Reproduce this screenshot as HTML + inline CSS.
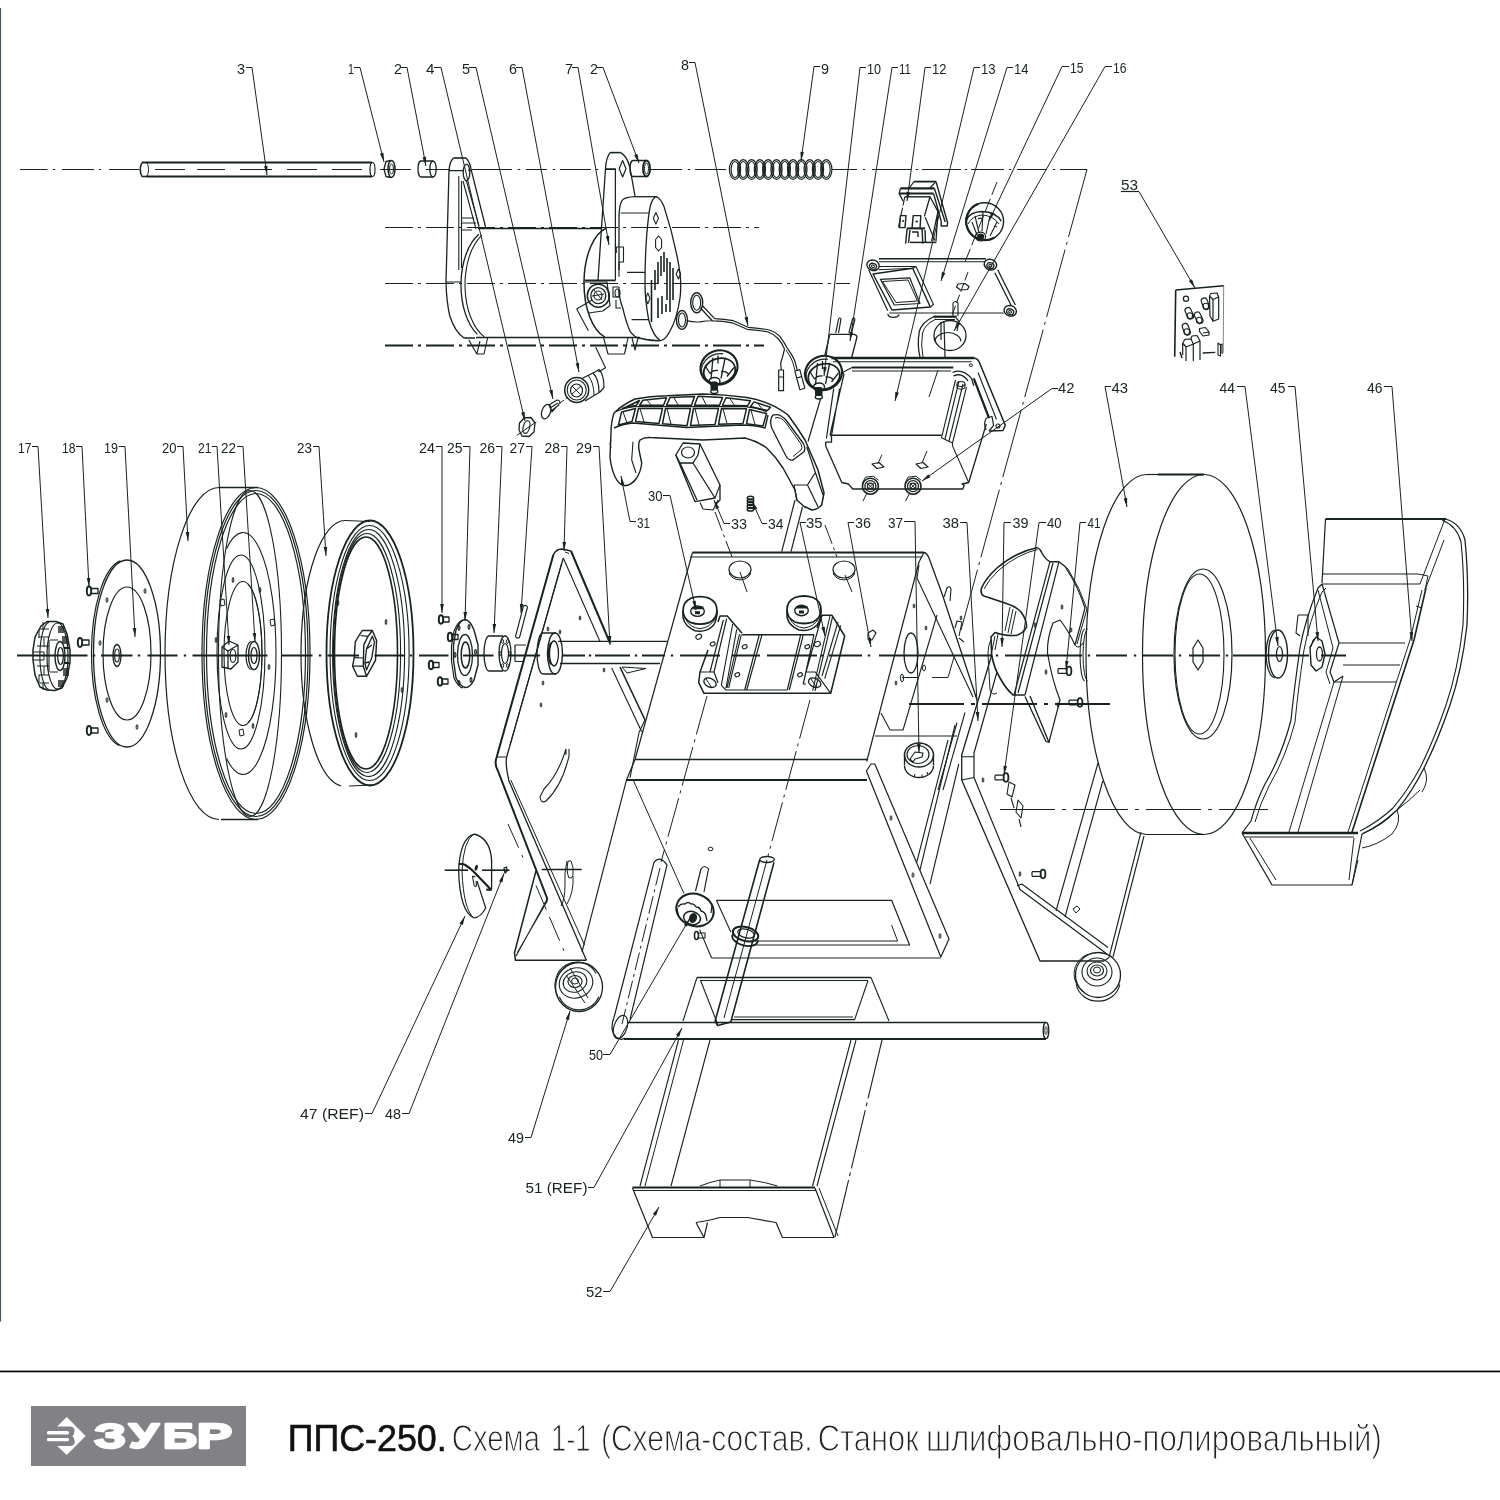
<!DOCTYPE html>
<html lang="ru"><head><meta charset="utf-8"><title>ППС-250. Схема 1-1</title>
<style>
html,body{margin:0;padding:0;background:#fff;}
body{width:1500px;height:1500px;position:relative;overflow:hidden;font-family:"Liberation Sans",sans-serif;}
svg{position:absolute;left:0;top:0;will-change:transform;}
svg text{font-family:"Liberation Sans",sans-serif;fill:#18221f;stroke:none;}
.logo{position:absolute;left:31px;top:1406px;width:215px;height:60px;background:#828186;}
</style></head><body>
<svg width="1500" height="1500" viewBox="0 0 1500 1500" fill="none" stroke="#18221f" stroke-linecap="butt" stroke-linejoin="round">
<rect x="0" y="0" width="1500" height="1500" fill="#fff" stroke="none"/>
<rect x="0" y="8" width="1.1" height="1313.6" fill="#4b5860" stroke="none"/>
<rect x="0" y="1370.6" width="1500" height="1.7" fill="#050505" stroke="none"/>
<rect x="31" y="1406" width="215" height="60" fill="#828186" stroke="none"/>
<text y="1447.6" font-size="34.5" font-weight="bold" style="fill:#fff;stroke:#fff;stroke-width:2.4px;stroke-linejoin:round"><tspan x="94.2" textLength="31.7" lengthAdjust="spacingAndGlyphs">З</tspan><tspan x="129.0" textLength="29.5" lengthAdjust="spacingAndGlyphs">У</tspan><tspan x="162.9" textLength="33.9" lengthAdjust="spacingAndGlyphs">Б</tspan><tspan x="197.0" textLength="35.0" lengthAdjust="spacingAndGlyphs">Р</tspan></text>
<polygon points="66.7,1416.9 85.6,1436.1 66.7,1455 57.2,1446 57.2,1426.5" fill="#fff" stroke="none"/>
<path d="M56.6,1426.5 H70 Q74.5,1426.5 74.5,1431 Q74.5,1434.5 72.5,1436.2 Q74.8,1438 74.8,1441.5 Q74.8,1446 70,1446 H56.6 Z" fill="#828186" stroke="none"/>
<rect x="46.9" y="1431" width="22.1" height="3.4" rx="1.5" fill="#fff" stroke="none"/><rect x="46.9" y="1438" width="22.1" height="3.3" rx="1.5" fill="#fff" stroke="none"/>
<text x="287.7" y="1450.8" font-size="36.5" textLength="159" lengthAdjust="spacingAndGlyphs" style="fill:#111;stroke:#111;stroke-width:0.6px">ППС-250.</text>
<text y="1450.8" font-size="36.5" style="fill:#222;stroke:#fff;stroke-width:1.1px" xml:space="preserve"><tspan x="451.8" textLength="88.3" lengthAdjust="spacingAndGlyphs">Схема</tspan> <tspan x="551.0" textLength="39.6" lengthAdjust="spacingAndGlyphs">1-1</tspan> <tspan x="600.9" textLength="211.8" lengthAdjust="spacingAndGlyphs">(Схема-состав.</tspan> <tspan x="817.8" textLength="100.9" lengthAdjust="spacingAndGlyphs">Станок</tspan> <tspan x="925.9" textLength="456.0" lengthAdjust="spacingAndGlyphs">шлифовально-полировальный)</tspan></text>
<text x="237" y="73.5" font-size="14.5" text-anchor="start" textLength="8" lengthAdjust="spacingAndGlyphs" >3</text>
<text x="348" y="73.5" font-size="14.5" text-anchor="start" textLength="6" lengthAdjust="spacingAndGlyphs" >1</text>
<text x="394" y="73.5" font-size="14.5" text-anchor="start" textLength="8" lengthAdjust="spacingAndGlyphs" >2</text>
<text x="426" y="73.5" font-size="14.5" text-anchor="start" textLength="8.5" lengthAdjust="spacingAndGlyphs" >4</text>
<text x="462" y="73.5" font-size="14.5" text-anchor="start" textLength="8" lengthAdjust="spacingAndGlyphs" >5</text>
<text x="509" y="73.5" font-size="14.5" text-anchor="start" textLength="8" lengthAdjust="spacingAndGlyphs" >6</text>
<text x="565" y="73.5" font-size="14.5" text-anchor="start" textLength="8" lengthAdjust="spacingAndGlyphs" >7</text>
<text x="590" y="73.5" font-size="14.5" text-anchor="start" textLength="8" lengthAdjust="spacingAndGlyphs" >2</text>
<text x="681" y="69.5" font-size="14.5" text-anchor="start" textLength="8" lengthAdjust="spacingAndGlyphs" >8</text>
<text x="821" y="73.5" font-size="14.5" text-anchor="start" textLength="8" lengthAdjust="spacingAndGlyphs" >9</text>
<text x="867" y="73.5" font-size="14.5" text-anchor="start" textLength="14" lengthAdjust="spacingAndGlyphs" >10</text>
<text x="899" y="73.5" font-size="14.5" text-anchor="start" textLength="12" lengthAdjust="spacingAndGlyphs" >11</text>
<text x="932" y="73.5" font-size="14.5" text-anchor="start" textLength="14.5" lengthAdjust="spacingAndGlyphs" >12</text>
<text x="981" y="73.5" font-size="14.5" text-anchor="start" textLength="14.5" lengthAdjust="spacingAndGlyphs" >13</text>
<text x="1014" y="73.5" font-size="14.5" text-anchor="start" textLength="14.5" lengthAdjust="spacingAndGlyphs" >14</text>
<text x="1070" y="73" font-size="14.5" text-anchor="start" textLength="13.5" lengthAdjust="spacingAndGlyphs" >15</text>
<text x="1113" y="73" font-size="14.5" text-anchor="start" textLength="13.5" lengthAdjust="spacingAndGlyphs" >16</text>
<text x="1121" y="189.5" font-size="14.5" text-anchor="start" textLength="17" lengthAdjust="spacingAndGlyphs" >53</text>
<text x="1058" y="393" font-size="14.5" text-anchor="start" textLength="16.5" lengthAdjust="spacingAndGlyphs" >42</text>
<text x="1111.5" y="393" font-size="14.5" text-anchor="start" textLength="16.5" lengthAdjust="spacingAndGlyphs" >43</text>
<text x="1219.5" y="393" font-size="14.5" text-anchor="start" textLength="15.5" lengthAdjust="spacingAndGlyphs" >44</text>
<text x="1270" y="393" font-size="14.5" text-anchor="start" textLength="15.5" lengthAdjust="spacingAndGlyphs" >45</text>
<text x="1367" y="393" font-size="14.5" text-anchor="start" textLength="15.5" lengthAdjust="spacingAndGlyphs" >46</text>
<text x="18" y="452.5" font-size="14.5" text-anchor="start" textLength="13.5" lengthAdjust="spacingAndGlyphs" >17</text>
<text x="62" y="452.5" font-size="14.5" text-anchor="start" textLength="13.5" lengthAdjust="spacingAndGlyphs" >18</text>
<text x="104" y="452.5" font-size="14.5" text-anchor="start" textLength="14" lengthAdjust="spacingAndGlyphs" >19</text>
<text x="162" y="452.5" font-size="14.5" text-anchor="start" textLength="14.5" lengthAdjust="spacingAndGlyphs" >20</text>
<text x="198" y="452.5" font-size="14.5" text-anchor="start" textLength="13.5" lengthAdjust="spacingAndGlyphs" >21</text>
<text x="221" y="452.5" font-size="14.5" text-anchor="start" textLength="15" lengthAdjust="spacingAndGlyphs" >22</text>
<text x="297" y="452.5" font-size="14.5" text-anchor="start" textLength="15" lengthAdjust="spacingAndGlyphs" >23</text>
<text x="419" y="452.5" font-size="14.5" text-anchor="start" textLength="16" lengthAdjust="spacingAndGlyphs" >24</text>
<text x="447" y="452.5" font-size="14.5" text-anchor="start" textLength="15.5" lengthAdjust="spacingAndGlyphs" >25</text>
<text x="479.5" y="452.5" font-size="14.5" text-anchor="start" textLength="15.5" lengthAdjust="spacingAndGlyphs" >26</text>
<text x="509.5" y="452.5" font-size="14.5" text-anchor="start" textLength="15.5" lengthAdjust="spacingAndGlyphs" >27</text>
<text x="544.5" y="452.5" font-size="14.5" text-anchor="start" textLength="15.5" lengthAdjust="spacingAndGlyphs" >28</text>
<text x="576" y="452.5" font-size="14.5" text-anchor="start" textLength="16" lengthAdjust="spacingAndGlyphs" >29</text>
<text x="648" y="500.5" font-size="14.5" text-anchor="start" textLength="14.5" lengthAdjust="spacingAndGlyphs" >30</text>
<text x="637" y="527.5" font-size="14.5" text-anchor="start" textLength="13" lengthAdjust="spacingAndGlyphs" >31</text>
<text x="731" y="529" font-size="14.5" text-anchor="start" textLength="16" lengthAdjust="spacingAndGlyphs" >33</text>
<text x="768" y="529" font-size="14.5" text-anchor="start" textLength="15.5" lengthAdjust="spacingAndGlyphs" >34</text>
<text x="806" y="528" font-size="14.5" text-anchor="start" textLength="16.5" lengthAdjust="spacingAndGlyphs" >35</text>
<text x="855" y="528" font-size="14.5" text-anchor="start" textLength="16" lengthAdjust="spacingAndGlyphs" >36</text>
<text x="888" y="527.5" font-size="14.5" text-anchor="start" textLength="15" lengthAdjust="spacingAndGlyphs" >37</text>
<text x="942.5" y="528" font-size="14.5" text-anchor="start" textLength="16.5" lengthAdjust="spacingAndGlyphs" >38</text>
<text x="1012.5" y="528" font-size="14.5" text-anchor="start" textLength="16" lengthAdjust="spacingAndGlyphs" >39</text>
<text x="1047" y="528" font-size="14.5" text-anchor="start" textLength="14.5" lengthAdjust="spacingAndGlyphs" >40</text>
<text x="1087.5" y="528" font-size="14.5" text-anchor="start" textLength="13" lengthAdjust="spacingAndGlyphs" >41</text>
<text x="300" y="1119" font-size="14.5" text-anchor="start" textLength="64" lengthAdjust="spacingAndGlyphs" >47 (REF)</text>
<text x="385" y="1119" font-size="14.5" text-anchor="start" textLength="16" lengthAdjust="spacingAndGlyphs" >48</text>
<text x="508" y="1143" font-size="14.5" text-anchor="start" textLength="16" lengthAdjust="spacingAndGlyphs" >49</text>
<text x="589" y="1059.5" font-size="14.5" text-anchor="start" textLength="14" lengthAdjust="spacingAndGlyphs" >50</text>
<text x="525.5" y="1192.5" font-size="14.5" text-anchor="start" textLength="62" lengthAdjust="spacingAndGlyphs" >51 (REF)</text>
<text x="586" y="1297" font-size="14.5" text-anchor="start" textLength="16.5" lengthAdjust="spacingAndGlyphs" >52</text>
<line x1="1121" y1="191.5" x2="1139" y2="191.5" stroke-width="1.2" />
<path d="M246,67.5 L252,67.5 L267,175" stroke-width="1" fill="none" />
<polygon points="267.0,175.0 264.0,166.3 267.5,165.8" fill="#18221f" stroke="none"/>
<path d="M354,67.5 L360,67.5 L384,162" stroke-width="1" fill="none" />
<polygon points="384.0,162.0 380.0,153.7 383.5,152.8" fill="#18221f" stroke="none"/>
<path d="M401,67.5 L407,67.5 L426,166" stroke-width="1" fill="none" />
<polygon points="426.0,166.0 422.5,157.5 426.1,156.8" fill="#18221f" stroke="none"/>
<path d="M434,67.5 L441,67.5 L525,421" stroke-width="1" fill="none" />
<polygon points="525.0,421.0 521.2,412.7 524.7,411.8" fill="#18221f" stroke="none"/>
<path d="M469,67.5 L476,67.5 L553,399" stroke-width="1" fill="none" />
<polygon points="553.0,399.0 549.2,390.6 552.7,389.8" fill="#18221f" stroke="none"/>
<path d="M516,67.5 L522,67.5 L579,372" stroke-width="1" fill="none" />
<polygon points="579.0,372.0 575.6,363.5 579.1,362.8" fill="#18221f" stroke="none"/>
<path d="M572,67.5 L578,67.5 L609,245" stroke-width="1" fill="none" />
<polygon points="609.0,245.0 605.7,236.4 609.2,235.8" fill="#18221f" stroke="none"/>
<path d="M597,67.5 L603,67.5 L639,163" stroke-width="1" fill="none" />
<polygon points="639.0,163.0 634.1,155.2 637.5,153.9" fill="#18221f" stroke="none"/>
<path d="M689,62.5 L695,62.5 L748,326" stroke-width="1" fill="none" />
<polygon points="748.0,326.0 744.5,317.5 748.0,316.8" fill="#18221f" stroke="none"/>
<path d="M820,66.5 L814,66.5 L801,161" stroke-width="1" fill="none" />
<polygon points="801.0,161.0 800.4,151.8 804.0,152.3" fill="#18221f" stroke="none"/>
<path d="M866,67.5 L860,67.5 L824,376" stroke-width="1" fill="none" />
<polygon points="824.0,376.0 823.3,366.9 826.8,367.3" fill="#18221f" stroke="none"/>
<path d="M898,67.5 L892,67.5 L850,341" stroke-width="1" fill="none" />
<polygon points="850.0,341.0 849.6,331.8 853.1,332.4" fill="#18221f" stroke="none"/>
<path d="M931,67.5 L925,67.5 L907,201" stroke-width="1" fill="none" />
<polygon points="907.0,201.0 906.4,191.8 910.0,192.3" fill="#18221f" stroke="none"/>
<path d="M980,67.5 L974,67.5 L895,401" stroke-width="1" fill="none" />
<polygon points="895.0,401.0 895.3,391.8 898.8,392.7" fill="#18221f" stroke="none"/>
<path d="M1013,67.5 L1007,67.5 L941,281" stroke-width="1" fill="none" />
<polygon points="941.0,281.0 941.9,271.9 945.4,272.9" fill="#18221f" stroke="none"/>
<path d="M1069,66.5 L1062,66.5 L989,221" stroke-width="1" fill="none" />
<polygon points="989.0,221.0 991.2,212.1 994.5,213.6" fill="#18221f" stroke="none"/>
<path d="M1112,66.5 L1105,66.5 L954,331" stroke-width="1" fill="none" />
<polygon points="954.0,331.0 956.9,322.3 960.0,324.1" fill="#18221f" stroke="none"/>
<path d="M1139,191.5 L1195,288" stroke-width="1" fill="none" />
<polygon points="1195.0,288.0 1188.9,281.1 1192.0,279.3" fill="#18221f" stroke="none"/>
<path d="M1058,388.5 L1052,388.5 L922,481" stroke-width="1" fill="none" />
<polygon points="922.0,481.0 928.3,474.3 930.4,477.2" fill="#18221f" stroke="none"/>
<path d="M1111,386.5 L1105,386.5 L1127,507" stroke-width="1" fill="none" />
<polygon points="1127.0,507.0 1123.6,498.5 1127.2,497.8" fill="#18221f" stroke="none"/>
<path d="M1237,386.5 L1245,386.5 L1278,646" stroke-width="1" fill="none" />
<polygon points="1278.0,646.0 1275.1,637.3 1278.7,636.8" fill="#18221f" stroke="none"/>
<path d="M1288,386.5 L1295,386.5 L1318,641" stroke-width="1" fill="none" />
<polygon points="1318.0,641.0 1315.4,632.2 1319.0,631.9" fill="#18221f" stroke="none"/>
<path d="M1384,386.5 L1392,386.5 L1412,641" stroke-width="1" fill="none" />
<polygon points="1412.0,641.0 1409.5,632.2 1413.1,631.9" fill="#18221f" stroke="none"/>
<path d="M32,446.5 L38,446.5 L48,618" stroke-width="1" fill="none" />
<polygon points="48.0,618.0 45.7,609.1 49.3,608.9" fill="#18221f" stroke="none"/>
<path d="M76,446.5 L82,446.5 L89,587" stroke-width="1" fill="none" />
<polygon points="89.0,587.0 86.8,578.1 90.3,577.9" fill="#18221f" stroke="none"/>
<path d="M119,446.5 L125,446.5 L135,637" stroke-width="1" fill="none" />
<polygon points="135.0,637.0 132.7,628.1 136.3,627.9" fill="#18221f" stroke="none"/>
<path d="M177,446.5 L183,446.5 L188,541" stroke-width="1" fill="none" />
<polygon points="188.0,541.0 185.7,532.1 189.3,531.9" fill="#18221f" stroke="none"/>
<path d="M212,446.5 L217,446.5 L229,645" stroke-width="1" fill="none" />
<polygon points="229.0,645.0 226.7,636.1 230.3,635.9" fill="#18221f" stroke="none"/>
<path d="M237,446.5 L243,446.5 L255,642" stroke-width="1" fill="none" />
<polygon points="255.0,642.0 252.7,633.1 256.2,632.9" fill="#18221f" stroke="none"/>
<path d="M313,446.5 L319,446.5 L326,556" stroke-width="1" fill="none" />
<polygon points="326.0,556.0 323.6,547.1 327.2,546.9" fill="#18221f" stroke="none"/>
<path d="M436,446.5 L442,446.5 L442,613" stroke-width="1" fill="none" />
<polygon points="442.0,613.0 440.2,604.0 443.8,604.0" fill="#18221f" stroke="none"/>
<path d="M463,446.5 L470,446.5 L465,621" stroke-width="1" fill="none" />
<polygon points="465.0,621.0 463.5,612.0 467.1,612.1" fill="#18221f" stroke="none"/>
<path d="M496,446.5 L502,446.5 L494,633" stroke-width="1" fill="none" />
<polygon points="494.0,633.0 492.6,623.9 496.2,624.1" fill="#18221f" stroke="none"/>
<path d="M526,446.5 L532,446.5 L521,613" stroke-width="1" fill="none" />
<polygon points="521.0,613.0 519.8,603.9 523.4,604.1" fill="#18221f" stroke="none"/>
<path d="M561,446.5 L567,446.5 L564,551" stroke-width="1" fill="none" />
<polygon points="564.0,551.0 562.5,542.0 566.1,542.1" fill="#18221f" stroke="none"/>
<path d="M593,446.5 L599,446.5 L610,645" stroke-width="1" fill="none" />
<polygon points="610.0,645.0 607.7,636.1 611.3,635.9" fill="#18221f" stroke="none"/>
<path d="M663,495.5 L670,495.5 L696,610" stroke-width="1" fill="none" />
<polygon points="696.0,610.0 692.3,601.6 695.8,600.8" fill="#18221f" stroke="none"/>
<path d="M636,521.5 L630,521.5 L621,476" stroke-width="1" fill="none" />
<polygon points="621.0,476.0 624.5,484.5 621.0,485.2" fill="#18221f" stroke="none"/>
<path d="M730,523.5 L724,523.5 L714,500" stroke-width="1" fill="none" />
<polygon points="714.0,500.0 719.2,507.6 715.9,509.0" fill="#18221f" stroke="none"/>
<path d="M767,523.5 L762,523.5 L752,501" stroke-width="1" fill="none" />
<polygon points="752.0,501.0 757.3,508.5 754.0,510.0" fill="#18221f" stroke="none"/>
<path d="M806,522.5 L800,522.5 L825,636" stroke-width="1" fill="none" />
<polygon points="825.0,636.0 821.3,627.6 824.8,626.8" fill="#18221f" stroke="none"/>
<path d="M854,522.5 L848,522.5 L871,647" stroke-width="1" fill="none" />
<polygon points="871.0,647.0 867.6,638.5 871.1,637.8" fill="#18221f" stroke="none"/>
<path d="M904,521.5 L915,521.5 L919,753" stroke-width="1" fill="none" />
<polygon points="919.0,753.0 917.0,744.0 920.6,744.0" fill="#18221f" stroke="none"/>
<path d="M960,522.5 L967,522.5 L978,721" stroke-width="1" fill="none" />
<polygon points="978.0,721.0 975.7,712.1 979.3,711.9" fill="#18221f" stroke="none"/>
<path d="M1011,522.5 L1004,522.5 L1002,647" stroke-width="1" fill="none" />
<polygon points="1002.0,647.0 1000.3,638.0 1003.9,638.0" fill="#18221f" stroke="none"/>
<path d="M1046,522.5 L1039,522.5 L1004,775" stroke-width="1" fill="none" />
<polygon points="1004.0,775.0 1003.5,765.8 1007.0,766.3" fill="#18221f" stroke="none"/>
<path d="M1086,522.5 L1080,522.5 L1066,670" stroke-width="1" fill="none" />
<polygon points="1066.0,670.0 1065.1,660.9 1068.6,661.2" fill="#18221f" stroke="none"/>
<path d="M365,1113.5 L372,1113.5 L465,916" stroke-width="1" fill="none" />
<polygon points="465.0,916.0 462.8,924.9 459.5,923.4" fill="#18221f" stroke="none"/>
<path d="M402,1113.5 L409,1113.5 L504,873.5" stroke-width="1" fill="none" />
<polygon points="504.0,873.5 502.4,882.5 499.0,881.2" fill="#18221f" stroke="none"/>
<path d="M525,1137.5 L531,1137.5 L570,1011" stroke-width="1" fill="none" />
<polygon points="570.0,1011.0 569.1,1020.1 565.6,1019.1" fill="#18221f" stroke="none"/>
<path d="M603,1054.5 L610,1054.5 L690,918" stroke-width="1" fill="none" />
<polygon points="690.0,918.0 687.0,926.7 683.9,924.9" fill="#18221f" stroke="none"/>
<path d="M588,1187.5 L594,1187.5 L682,1028" stroke-width="1" fill="none" />
<polygon points="682.0,1028.0 679.2,1036.7 676.1,1035.0" fill="#18221f" stroke="none"/>
<path d="M603,1291.5 L610,1291.5 L659,1207" stroke-width="1" fill="none" />
<polygon points="659.0,1207.0 656.0,1215.7 652.9,1213.9" fill="#18221f" stroke="none"/>
<path d="M20,169.5 H47.5 M62,169.5 H94 M109,169.5 H139 M155,169.5 H185 M197,169.5 H225 M240,169.5 H272 M287,169.5 H317 M332,169.5 H362 M380,169.5 H411 M426,169.5 H450 M472,169.5 H512 M526,169.5 H547 M560,169.5 H591 M605,169.5 H615 M650,169.5 H682 M695,169.5 H726 M832,169.5 H857 M872,169.5 H911 M922,169.5 H961 M971,169.5 H1004 M1017,169.5 H1047 M1060,169.5 H1087 M52.8,169.5 h2.4 M98.8,169.5 h2.4 M517.8,169.5 h2.4 M552.8,169.5 h2.4 M595.8,169.5 h2.4 M687.8,169.5 h2.4 M862.8,169.5 h2.4 M915.8,169.5 h2.4 M964.8,169.5 h2.4 M1008.8,169.5 h2.4 M1052.8,169.5 h2.4" stroke-width="1.2" fill="none" />
<line x1="1087" y1="169.5" x2="961" y2="630" stroke-width="1" stroke-dasharray="70 5 3 5"/>
<line x1="385" y1="227.5" x2="759" y2="227.5" stroke-width="1.2" stroke-dasharray="28 5 3 5"/>
<line x1="385" y1="283.5" x2="850" y2="283.5" stroke-width="1.2" stroke-dasharray="28 5 3 5"/>
<line x1="385" y1="345.5" x2="764" y2="345.5" stroke-width="2" stroke-dasharray="28 5 3 5"/>
<path d="M17,655.5 H87.5 M101,655.5 H132.5 M147.5,655.5 H177.5 M192.5,655.5 H267.5 M281,655.5 H312.5 M327.5,655.5 H359 M374.5,655.5 H404 M419,655.5 H448.5 M463,655.5 H493.5 M508,655.5 H540 M562,655.5 H585 M595,655.5 H630 M642,655.5 H665 M680,655.5 H720 M732,655.5 H760 M767,655.5 H817 M829,655.5 H862 M879,655.5 H992 M1005,655.5 H1082 M1096,655.5 H1127 M1142,655.5 H1173 M1189,655.5 H1220 M1233,655.5 H1309 M1321,655.5 H1346 M92.8,655.5 h2.4 M137.8,655.5 h2.4 M183.8,655.5 h2.4 M318.8,655.5 h2.4 M409.8,655.5 h2.4 M588.8,655.5 h2.4 M634.8,655.5 h2.4 M670.8,655.5 h2.4 M820.8,655.5 h2.4 M867.8,655.5 h2.4 M995.8,655.5 h2.4 M1087.8,655.5 h2.4 M1133.8,655.5 h2.4 M1178.8,655.5 h2.4 M1225.8,655.5 h2.4" stroke-width="2" fill="none" />
<line x1="909" y1="704" x2="1110" y2="704" stroke-width="2" stroke-dasharray="55 7 4 7"/>
<line x1="1000" y1="809.5" x2="1268" y2="809.5" stroke-width="1.2" stroke-dasharray="55 7 4 7"/>
<line x1="444.7" y1="870.2" x2="468" y2="870.2" stroke-width="1.6" />
<line x1="482" y1="870.2" x2="509.5" y2="870.2" stroke-width="1.6" />
<line x1="541.6" y1="869.6" x2="581.7" y2="869.6" stroke-width="1.5" />
<line x1="707" y1="696" x2="661" y2="862" stroke-width="1" stroke-dasharray="40 5 3 5"/>
<line x1="810" y1="700" x2="768" y2="856" stroke-width="1" stroke-dasharray="40 5 3 5"/>
<path d="M142,162.5 H372 M146,176.5 H372" stroke-width="2" fill="none" />
<path d="M142,162.5 Q138.5,169.5 142,176.5 H146" stroke-width="1.5" fill="none" />
<path d="M146.0,162.5 A2.5,7 0 0 1 146.0,176.5" stroke-width="1" fill="none" />
<ellipse cx="372.5" cy="169.5" rx="2.5" ry="7" stroke-width="1.2" fill="none" />
<ellipse cx="391.5" cy="169" rx="3.5" ry="8.5" stroke-width="1.5" fill="none" />
<ellipse cx="391.5" cy="169" rx="2" ry="5" stroke-width="1" fill="none" />
<path d="M391,160.5 L386,161.5 L384,169 L386,176.5 L391,177.5" stroke-width="1.3" fill="none" />
<path d="M421,161 H433 M421,177 H433" stroke-width="1.3" fill="none" />
<path d="M421.0,177.0 A3,8 0 0 1 421.0,161.0" stroke-width="1.3" fill="none" />
<ellipse cx="433" cy="169" rx="3.2" ry="8" stroke-width="1.3" fill="none" />
<path d="M633,160.5 H646 M633,176.5 H646" stroke-width="1.3" fill="none" />
<path d="M633.0,176.5 A3,8 0 0 1 633.0,160.5" stroke-width="1.3" fill="none" />
<ellipse cx="646.5" cy="168.5" rx="3.6" ry="8" stroke-width="1.8" fill="none" />
<ellipse cx="646.5" cy="168.5" rx="2" ry="5.5" stroke-width="1" fill="none" />
<ellipse cx="735.0" cy="169.5" rx="5.6" ry="9.8" stroke-width="1.2" fill="none" />
<ellipse cx="735.0" cy="169.5" rx="3.9" ry="8" stroke-width="1.1" fill="none" />
<ellipse cx="743.3" cy="169.5" rx="5.6" ry="9.8" stroke-width="1.2" fill="none" />
<ellipse cx="743.3" cy="169.5" rx="3.9" ry="8" stroke-width="1.1" fill="none" />
<ellipse cx="751.6" cy="169.5" rx="5.6" ry="9.8" stroke-width="1.2" fill="none" />
<ellipse cx="751.6" cy="169.5" rx="3.9" ry="8" stroke-width="1.1" fill="none" />
<ellipse cx="759.9" cy="169.5" rx="5.6" ry="9.8" stroke-width="1.2" fill="none" />
<ellipse cx="759.9" cy="169.5" rx="3.9" ry="8" stroke-width="1.1" fill="none" />
<ellipse cx="768.2" cy="169.5" rx="5.6" ry="9.8" stroke-width="1.2" fill="none" />
<ellipse cx="768.2" cy="169.5" rx="3.9" ry="8" stroke-width="1.1" fill="none" />
<ellipse cx="776.5" cy="169.5" rx="5.6" ry="9.8" stroke-width="1.2" fill="none" />
<ellipse cx="776.5" cy="169.5" rx="3.9" ry="8" stroke-width="1.1" fill="none" />
<ellipse cx="784.8" cy="169.5" rx="5.6" ry="9.8" stroke-width="1.2" fill="none" />
<ellipse cx="784.8" cy="169.5" rx="3.9" ry="8" stroke-width="1.1" fill="none" />
<ellipse cx="793.1" cy="169.5" rx="5.6" ry="9.8" stroke-width="1.2" fill="none" />
<ellipse cx="793.1" cy="169.5" rx="3.9" ry="8" stroke-width="1.1" fill="none" />
<ellipse cx="801.4" cy="169.5" rx="5.6" ry="9.8" stroke-width="1.2" fill="none" />
<ellipse cx="801.4" cy="169.5" rx="3.9" ry="8" stroke-width="1.1" fill="none" />
<ellipse cx="809.7" cy="169.5" rx="5.6" ry="9.8" stroke-width="1.2" fill="none" />
<ellipse cx="809.7" cy="169.5" rx="3.9" ry="8" stroke-width="1.1" fill="none" />
<ellipse cx="818.0" cy="169.5" rx="5.6" ry="9.8" stroke-width="1.2" fill="none" />
<ellipse cx="818.0" cy="169.5" rx="3.9" ry="8" stroke-width="1.1" fill="none" />
<ellipse cx="826.3" cy="169.5" rx="5.6" ry="9.8" stroke-width="1.2" fill="none" />
<ellipse cx="826.3" cy="169.5" rx="3.9" ry="8" stroke-width="1.1" fill="none" />
<path d="M41,626 L47,621.5 L56,621.5 L63,624 L67,634 L70,650 V662 L67,678 L62,688 L55,690.5 L47,690 L40,687 L35,675 L33,660 V650 L35,637 Z" stroke-width="1.5" fill="none" />
<ellipse cx="57.5" cy="656" rx="10.5" ry="33" stroke-width="1.2" fill="none" />
<path d="M49.1,689.9 A10,34 0 0 1 49.1,622.1" stroke-width="1.1" fill="none" />
<line x1="39.86" y1="629" x2="49" y2="629" stroke-width="1" />
<line x1="38.42" y1="637" x2="49" y2="637" stroke-width="1" />
<line x1="36.8" y1="646" x2="49" y2="646" stroke-width="1" />
<line x1="36.8" y1="666" x2="49" y2="666" stroke-width="1" />
<line x1="38.42" y1="675" x2="49" y2="675" stroke-width="1" />
<line x1="39.86" y1="683" x2="49" y2="683" stroke-width="1" />
<path d="M43,622 V630 M39,630 V638 M44,638 V647 M44,666 V675 M39,675 V683 M43,683 V690 M33,652 H44 V660 H33" stroke-width="1" fill="none" />
<ellipse cx="60" cy="656" rx="5" ry="14.5" stroke-width="1.4" fill="none" />
<ellipse cx="60.5" cy="656" rx="2.8" ry="8.5" stroke-width="1.2" fill="none" />
<path d="M50,640 H58 M50,672 H58 M49,640 V672" stroke-width="1.1" fill="none" />
<rect x="58" y="626" width="6" height="7" fill="#18221f" fill-opacity="0.75" stroke="none"/>
<rect x="62" y="636" width="6" height="8" fill="#18221f" fill-opacity="0.75" stroke="none"/>
<rect x="63" y="668" width="6" height="8" fill="#18221f" fill-opacity="0.75" stroke="none"/>
<rect x="58" y="680" width="6" height="7" fill="#18221f" fill-opacity="0.75" stroke="none"/>
<path d="M64,648 H69 M64,663 H69" stroke-width="2" fill="none" />
<path d="M90,588.5 H98 V593.5 H90" stroke-width="1.3" fill="none" />
<ellipse cx="89" cy="591" rx="2.2" ry="4.5" stroke-width="1.9" fill="none" />
<path d="M81,640.0 H89 V645.0 H81" stroke-width="1.3" fill="none" />
<ellipse cx="80" cy="642.5" rx="2.2" ry="4.5" stroke-width="1.9" fill="none" />
<path d="M90,728.0 H98 V733.0 H90" stroke-width="1.3" fill="none" />
<ellipse cx="89" cy="730.5" rx="2.2" ry="4.5" stroke-width="1.9" fill="none" />
<ellipse cx="127" cy="653.5" rx="33.5" ry="93.5" stroke-width="1.3" fill="none" />
<path d="M119.2,745.6 A33.5,93.5 0 0 1 120.3,560.9" stroke-width="1.2" fill="none" />
<ellipse cx="127" cy="653.5" rx="24" ry="66.5" stroke-width="1.2" fill="none" />
<ellipse cx="117" cy="655.5" rx="4" ry="11" stroke-width="1.3" fill="none" />
<ellipse cx="117" cy="655.5" rx="2.3" ry="6.5" stroke-width="1.2" fill="none" />
<ellipse cx="145" cy="591" rx="0.9" ry="2.5" stroke-width="1" fill="none" />
<ellipse cx="100" cy="643" rx="0.9" ry="2.5" stroke-width="1" fill="none" />
<ellipse cx="137" cy="727" rx="0.9" ry="2.5" stroke-width="1" fill="none" />
<ellipse cx="107" cy="600" rx="0.9" ry="2.5" stroke-width="1" fill="none" />
<ellipse cx="107" cy="700" rx="0.9" ry="2.5" stroke-width="1" fill="none" />
<path d="M219.0,819.5 A54,166 0 0 1 219.0,487.5" stroke-width="1.2" fill="none" />
<line x1="219" y1="487.5" x2="258" y2="487.5" stroke-width="1.3" />
<line x1="221" y1="819.5" x2="258" y2="819.5" stroke-width="1.3" />
<ellipse cx="256" cy="653.5" rx="54" ry="166" stroke-width="1.2" fill="none" />
<ellipse cx="256" cy="653.5" rx="52" ry="163" stroke-width="1.2" fill="none" />
<ellipse cx="256" cy="653.5" rx="49.5" ry="160" stroke-width="1.2" fill="none" />
<ellipse cx="250" cy="653.5" rx="31.5" ry="163" stroke-width="1.1" fill="none" />
<path d="M226.5,548.7 A33,121 0 1 1 226.5,758.3" stroke-width="1.1" fill="none" />
<ellipse cx="241" cy="652" rx="24" ry="97" stroke-width="1.1" fill="none" />
<ellipse cx="243" cy="653.5" rx="19" ry="72" stroke-width="1.1" fill="none" />
<path d="M248.0,584.6 A17,70 0 0 1 248.0,722.4" stroke-width="1" fill="none" />
<path d="M222,647 L229,641 L238,645 V662 L231,669 L222,667 Z M222,647 L228,651 L238,645 M228,651 V668" stroke-width="1.3" fill="none" />
<ellipse cx="233" cy="656" rx="2.8" ry="6.5" stroke-width="1.1" fill="none" />
<ellipse cx="254" cy="655.5" rx="5.5" ry="14" stroke-width="1.4" fill="none" />
<ellipse cx="254" cy="655.5" rx="3" ry="8" stroke-width="1.2" fill="none" />
<path d="M251.5,669.5 A5.5,14 0 0 1 251.5,641.5" stroke-width="1.2" fill="none" />
<ellipse cx="233" cy="580" rx="0.8" ry="2.6" stroke-width="1" fill="none" />
<ellipse cx="260" cy="590" rx="0.8" ry="2.6" stroke-width="1" fill="none" />
<ellipse cx="216" cy="640" rx="0.8" ry="2.6" stroke-width="1" fill="none" />
<ellipse cx="269" cy="667" rx="0.8" ry="2.6" stroke-width="1" fill="none" />
<ellipse cx="226" cy="715" rx="0.8" ry="2.6" stroke-width="1" fill="none" />
<ellipse cx="253" cy="726" rx="0.8" ry="2.6" stroke-width="1" fill="none" />
<path d="M220,600 l4,-1 l1,6 l-4,1 z M270,620 l4,-1 l1,6 l-4,1 z M239,730 l4,-1 l1,6 l-4,1 z" stroke-width="1" fill="none" />
<path d="M341.2,786.0 A44,133 0 0 1 345.0,520.5" stroke-width="1.2" fill="none" />
<line x1="345" y1="520.5" x2="370" y2="521.5" stroke-width="1.2" />
<line x1="349" y1="786" x2="372" y2="785" stroke-width="1.2" />
<ellipse cx="370" cy="653" rx="43.5" ry="132.5" stroke-width="1.8" fill="none" />
<ellipse cx="369.6" cy="653" rx="39.5" ry="127.5" stroke-width="1.1" fill="none" />
<ellipse cx="368.6" cy="653" rx="36" ry="123.5" stroke-width="1.1" fill="none" />
<ellipse cx="367" cy="653" rx="33.6" ry="119.5" stroke-width="1.1" fill="none" />
<ellipse cx="366" cy="653" rx="31.5" ry="116" stroke-width="1.6" fill="none" />
<path d="M372.3,630.5 L376.6,640.6 L375.5,660.3 L366.5,676.3 L363.3,666.2 L363.8,644.9 L368,636.3 Z" stroke-width="1.4" fill="none" />
<path d="M372.3,630.5 H362.2 L355.3,641.7 L354.2,657.7 L352.6,666.2 L357.4,676.3 H366.5" stroke-width="1.4" fill="none" />
<path d="M360.6,635.5 L368,636.3 M354.2,657.7 L363.5,658 M352.6,666.2 H363.3" stroke-width="1.2" fill="none" />
<path d="M372.3,636.3 L374.5,641.7 L371.8,657.7 L366.5,670 L364.9,663 L366.5,649 Z M366.5,649 L371.8,645 M364.9,663 L369,662" stroke-width="1.3" fill="none" />
<ellipse cx="338" cy="603" rx="0.8" ry="2.6" stroke-width="1" fill="none" />
<ellipse cx="386" cy="622" rx="0.8" ry="2.6" stroke-width="1" fill="none" />
<ellipse cx="356" cy="735" rx="0.8" ry="2.6" stroke-width="1" fill="none" />
<ellipse cx="402" cy="690" rx="0.8" ry="2.6" stroke-width="1" fill="none" />
<path d="M1147.0,834.5 A61,180 0 0 1 1147.0,474.5" stroke-width="1.2" fill="none" />
<line x1="1158" y1="474.5" x2="1204" y2="474.5" stroke-width="2" />
<line x1="1147" y1="474.5" x2="1158" y2="474.5" stroke-width="1.2" />
<line x1="1147" y1="834.5" x2="1204" y2="834.5" stroke-width="1.2" />
<ellipse cx="1204" cy="654.5" rx="61.5" ry="180" stroke-width="1.2" fill="none" />
<ellipse cx="1203" cy="654" rx="29" ry="85" stroke-width="1.2" fill="none" />
<ellipse cx="1199.5" cy="654" rx="24.5" ry="80" stroke-width="1.1" fill="none" />
<path d="M1198,640 L1203,648 V662 L1198,670 L1193,662 V648 Z" stroke-width="1.2" fill="none" />
<ellipse cx="1278" cy="654" rx="9.5" ry="24" stroke-width="1.4" fill="none" />
<ellipse cx="1279.5" cy="654" rx="3" ry="7.5" stroke-width="1.2" fill="none" />
<path d="M1274.7,677.9 A9.5,24 0 0 1 1274.7,630.1" stroke-width="1.2" fill="none" />
<path d="M1316,637 L1322,641 L1325,654 L1322,667 L1316,671 L1311,665 L1310,647 Z" stroke-width="1.4" fill="none" />
<ellipse cx="1319.5" cy="654" rx="3" ry="7" stroke-width="1.3" fill="none" />
<path d="M1316,637 L1313,640 L1311,647 M1316,671 L1314,668" stroke-width="1" fill="none" />
<path d="M1325.5,519 H1446" stroke-width="1.8" fill="none" />
<path d="M1446,519 Q1461,524 1465,540 Q1469,580 1467,625 Q1462,670 1450,705 Q1438,740 1424,768 Q1412,792 1397,810 Q1380,826 1362,834" stroke-width="1.3" fill="none" />
<path d="M1442,520 Q1457,526 1461,542 Q1465,580 1463,625 Q1458,670 1446,705 Q1434,740 1420,768 Q1408,790 1393,808 Q1378,822 1360,831" stroke-width="1.1" fill="none" />
<path d="M1325.5,519 L1322,583" stroke-width="1.2" fill="none" />
<path d="M1322,574 H1418 M1322,584 H1420" stroke-width="1.1" fill="none" />
<path d="M1322,584 L1318,588 Q1305,620 1300,648 Q1294,690 1291,720 Q1282,755 1265,784 Q1256,802 1251,821 L1242,833" stroke-width="1.2" fill="none" />
<path d="M1326,588 L1322,592 Q1309,622 1304,650 Q1298,690 1295,722 Q1286,757 1269,786 Q1260,804 1255,822" stroke-width="1" fill="none" />
<path d="M1322,584 L1339,643 L1330,672 L1334,682 L1343,676" stroke-width="1.2" fill="none" />
<path d="M1339,643 H1405 M1343,665 H1400 M1334,682 H1396" stroke-width="1.1" fill="none" />
<path d="M1318,590 L1333,648 L1326,672 L1330,684" stroke-width="1" fill="none" />
<path d="M1418,574 L1428,576 L1425,590 M1420,584 L1445,519 M1425,590 L1444,540" stroke-width="1" fill="none" />
<path d="M1426,588 L1414,640 L1352,832" stroke-width="1.6" fill="none" />
<path d="M1422,590 L1410,640 L1348,832" stroke-width="1" fill="none" />
<path d="M1416,606 L1422,608" stroke-width="1" fill="none" />
<path d="M1334,682 L1289,832" stroke-width="1" fill="none" />
<path d="M1343,676 L1298,832" stroke-width="1" fill="none" />
<path d="M1298,615 H1308 V636 M1298,615 L1296,633 L1300,636" stroke-width="1.1" fill="none" />
<path d="M1242,833 H1358" stroke-width="2.4" fill="none" />
<path d="M1245,837 H1354" stroke-width="1" fill="none" />
<path d="M1242,833 L1272,885 H1352 L1362,834" stroke-width="1.2" fill="none" />
<path d="M1250,838 L1276,880 M1354,838 L1349,880" stroke-width="1" fill="none" />
<path d="M1362,834 Q1385,824 1397,810 Q1402,822 1392,834 Q1378,845 1362,848 M1352,885 L1358,860" stroke-width="1" fill="none" />
<path d="M1424,768 Q1430,780 1422,792 M1397,810 Q1410,800 1420,790" stroke-width="1" fill="none" />
<path d="M442,617.0 H449 V622.0 H442" stroke-width="1.3" fill="none" />
<ellipse cx="441" cy="619.5" rx="2.2" ry="4.2" stroke-width="2.0" fill="none" />
<path d="M451,634.5 H458 V639.5 H451" stroke-width="1.3" fill="none" />
<ellipse cx="450" cy="637" rx="2.2" ry="4.2" stroke-width="2.0" fill="none" />
<path d="M432,662.5 H439 V667.5 H432" stroke-width="1.3" fill="none" />
<ellipse cx="431" cy="665" rx="2.2" ry="4.2" stroke-width="2.0" fill="none" />
<path d="M441,679.0 H448 V684.0 H441" stroke-width="1.3" fill="none" />
<ellipse cx="440" cy="681.5" rx="2.2" ry="4.2" stroke-width="2.0" fill="none" />
<path d="M465,619.5 Q470,620 474,630 L478,645 V665 L474,680 Q470,688 465,687.5 Q460,686 456,678 L453.5,660 V645 L456,630 Q460,620 465,619.5 Z" stroke-width="1.4" fill="none" />
<path d="M463,620 Q458,621 454,631 L451.5,646 V661 L454,678 Q458,687 463,688" stroke-width="1.2" fill="none" />
<ellipse cx="465" cy="655" rx="7.5" ry="20.5" stroke-width="1.3" fill="none" />
<ellipse cx="465.5" cy="655" rx="4.3" ry="13" stroke-width="1.5" fill="none" />
<ellipse cx="469" cy="627" rx="0.9" ry="2.3" stroke-width="1.2" fill="none" />
<ellipse cx="475.5" cy="652" rx="0.9" ry="2.3" stroke-width="1.2" fill="none" />
<ellipse cx="471" cy="680" rx="0.9" ry="2.3" stroke-width="1.2" fill="none" />
<ellipse cx="459" cy="683" rx="0.9" ry="2.3" stroke-width="1.2" fill="none" />
<ellipse cx="455" cy="655" rx="0.9" ry="2.3" stroke-width="1.2" fill="none" />
<ellipse cx="459" cy="628" rx="0.9" ry="2.3" stroke-width="1.2" fill="none" />
<path d="M489,636 H503 M489,671 H503" stroke-width="1.3" fill="none" />
<path d="M489.0,671.0 A5,17.5 0 0 1 489.0,636.0" stroke-width="1.3" fill="none" />
<ellipse cx="505" cy="653.5" rx="6" ry="17.5" stroke-width="1.3" fill="none" />
<ellipse cx="505" cy="653.5" rx="3.5" ry="10" stroke-width="1.2" fill="none" />
<ellipse cx="507.4" cy="641.3756443470179" rx="1" ry="2" stroke-width="1" fill="none" />
<ellipse cx="509.8" cy="653.5" rx="1" ry="2" stroke-width="1" fill="none" />
<ellipse cx="507.4" cy="665.6243556529821" rx="1" ry="2" stroke-width="1" fill="none" />
<ellipse cx="502.6" cy="665.6243556529821" rx="1" ry="2" stroke-width="1" fill="none" />
<ellipse cx="500.2" cy="653.5" rx="1" ry="2" stroke-width="1" fill="none" />
<ellipse cx="502.6" cy="641.3756443470179" rx="1" ry="2" stroke-width="1" fill="none" />
<path d="M523.5,606 L515.5,636.5 Q517,639 519.5,637.5 L527.5,607 Q526,604.5 523.5,606 Z" stroke-width="1.1" fill="none" />
<path d="M515,645 H526 M515,661.5 H524 M515,645 V661.5" stroke-width="1.2" fill="none" />
<path d="M553.3,555 Q556,549 562,549 L571,551" stroke-width="1.5" fill="none" />
<path d="M553.3,555 L496.7,757 Q494,764 498,771 L547,898 Q548,901 544.4,904" stroke-width="2" fill="none" />
<path d="M563.3,558 L506.7,757 Q505,764 509,781 L586.4,960.3" stroke-width="1.3" fill="none" />
<path d="M510.8,780 L584.5,945" stroke-width="1" fill="none" />
<path d="M561.7,563 L510,745" stroke-width="1" fill="none" />
<path d="M497,757 H507" stroke-width="1" fill="none" />
<path d="M571,551 L610,643" stroke-width="2" fill="none" />
<path d="M620,667 L645,720" stroke-width="1.6" fill="none" />
<path d="M563.3,558 L600,641.5" stroke-width="1.1" fill="none" />
<path d="M611.7,668 L641.7,731.7" stroke-width="1.1" fill="none" />
<path d="M645,720 L639,732.5 L630,778" stroke-width="1.1" fill="none" />
<path d="M565,552 l4,1.5" stroke-width="1" fill="none" />
<path d="M566,749 Q558,775 544,789 L540,797 Q541,804 546,801 Q562,786 569,756 L569,749 M566,749 V755" stroke-width="1.1" fill="none" />
<path d="M536,870.7 L514.5,952.8 L515.5,960.3 H586.4" stroke-width="1.5" fill="none" />
<path d="M546.3,902.4 L517.3,952.8 M544,905 L516,956" stroke-width="1.1" fill="none" />
<path d="M508,824 L523,857.6 M536,885.6 L564,951" stroke-width="1" fill="none" stroke-dasharray="26 8"/>
<path d="M567,861 q-3,12 -2,24 q0,14 -4,21 M571,861 q3,6 2,14 q-1,4 -4,3 q-3,-6 -1,-17 z M573,876 q1,16 -6,28" stroke-width="1" fill="none" />
<ellipse cx="580" cy="618" rx="0.8" ry="2.2" stroke-width="1" fill="none" />
<ellipse cx="548" cy="629" rx="0.8" ry="2.2" stroke-width="1" fill="none" />
<ellipse cx="560" cy="632" rx="0.8" ry="2.2" stroke-width="1" fill="none" />
<ellipse cx="543" cy="683" rx="0.8" ry="2.2" stroke-width="1" fill="none" />
<ellipse cx="541" cy="705" rx="0.8" ry="2.2" stroke-width="1" fill="none" />
<ellipse cx="604" cy="670" rx="0.8" ry="2.2" stroke-width="1" fill="none" />
<path d="M558,641.3 H667 M560,663.5 H660" stroke-width="1.3" fill="none" />
<path d="M543,633 H556 M543,674 H556" stroke-width="1.3" fill="none" />
<path d="M543.0,674.0 A6,20.5 0 0 1 543.0,633.0" stroke-width="1.3" fill="none" />
<ellipse cx="555" cy="653.5" rx="7.5" ry="20.5" stroke-width="1.4" fill="none" />
<ellipse cx="554" cy="653.5" rx="4.5" ry="12.5" stroke-width="1.3" fill="none" />
<path d="M551.4,664.3 A3.5,11 0 0 1 551.4,642.7" stroke-width="1.6" fill="none" />
<path d="M622,667 L646,668.5 L627,673 Z" stroke-width="1" fill="none" />
<path d="M692.5,552.5 H924" stroke-width="2" fill="none" />
<path d="M690,557 H922" stroke-width="1.2" fill="none" />
<path d="M692.5,552.5 L635,759.5" stroke-width="1.2" fill="none" />
<path d="M635,759.5 H867.5" stroke-width="1.3" fill="none" />
<path d="M626.5,780 H867" stroke-width="2" fill="none" />
<path d="M635,759.5 L626.5,780" stroke-width="1.2" fill="none" />
<path d="M626.5,780 L582,952" stroke-width="1.1" fill="none" />
<path d="M633.6,781 L684,893.6" stroke-width="1" fill="none" />
<path d="M924,552.5 Q927,553 929,558 L942.5,595 L977,700" stroke-width="1.3" fill="none" />
<path d="M919,565 L917,578 L973,697" stroke-width="1.1" fill="none" />
<path d="M919,562 L866.7,761.5" stroke-width="1.2" fill="none" />
<path d="M924,552.5 L919,562" stroke-width="1.2" fill="none" />
<path d="M944,597 l3,-9 q3,-3 4,1 l-1,12 M955,628 l2,-7 l5,1 l-3,14 M959,638 l5,4" stroke-width="1.1" fill="none" />
<path d="M937,615 L903,730 H890 L881,713" stroke-width="1.1" fill="none" />
<path d="M875,736 H957" stroke-width="1.1" fill="none" />
<ellipse cx="911" cy="653" rx="7" ry="20" stroke-width="1.3" fill="none" />
<ellipse cx="924" cy="668" rx="1.5" ry="3" stroke-width="1" fill="none" />
<ellipse cx="902" cy="678" rx="1.5" ry="4" stroke-width="1" fill="none" />
<path d="M902,677.5 H917 M932,677.5 H948 L954,657" stroke-width="1" fill="none" />
<ellipse cx="914" cy="606" rx="0.8" ry="2.2" stroke-width="1" fill="none" />
<ellipse cx="926" cy="628" rx="0.8" ry="2.2" stroke-width="1" fill="none" />
<ellipse cx="896" cy="683" rx="0.8" ry="2.2" stroke-width="1" fill="none" />
<ellipse cx="961" cy="618" rx="0.8" ry="2.2" stroke-width="1" fill="none" />
<ellipse cx="740" cy="569.5" rx="11" ry="8.5" stroke-width="1.2" fill="none" />
<path d="M750.8,573.0 A11,8.5 0 0 1 729.2,573.0" stroke-width="1" fill="none" />
<ellipse cx="844" cy="569.5" rx="11" ry="8.5" stroke-width="1.2" fill="none" />
<path d="M854.8,573.0 A11,8.5 0 0 1 833.2,573.0" stroke-width="1" fill="none" />
<line x1="715" y1="512" x2="732" y2="557" stroke-width="1" stroke-dasharray="20 4 3 4"/>
<line x1="740" y1="572" x2="747" y2="592" stroke-width="1" />
<line x1="825" y1="525" x2="837" y2="557" stroke-width="1" stroke-dasharray="20 4 3 4"/>
<line x1="845" y1="575" x2="852" y2="592" stroke-width="1" />
<ellipse cx="919" cy="755" rx="14.5" ry="12" stroke-width="1.5" fill="none" />
<ellipse cx="918" cy="754.5" rx="11" ry="9" stroke-width="1.2" fill="none" />
<path d="M904.5,755 V765 M933.5,755 V765" stroke-width="1.3" fill="none" />
<path d="M933.5,765.5 A14.5,12 0 0 1 904.5,765.5" stroke-width="1.4" fill="none" />
<path d="M910,759 l5,-7 l8,1 l-1,4 l-7,2 l-2,3 z" stroke-width="1.1" fill="none" />
<path d="M914,777 l1,-3 M922,777.5 v-3 M928,775 l-1,-3" stroke-width="1" fill="none" />
<path d="M871,764 L866.4,771 L940.8,957 L949,939 L874.8,764 Z" stroke-width="1.2" fill="none" />
<path d="M711.6,958 H940.8" stroke-width="1.2" fill="none" />
<path d="M716.4,900.3 H891.6 L909.6,945 H753.6" stroke-width="1.2" fill="none" />
<path d="M755,941 H897.6 L891.6,925" stroke-width="1" fill="none" />
<path d="M716.4,900.3 L730.8,932" stroke-width="1.1" fill="none" />
<path d="M711.6,958 L699.6,929.6" stroke-width="1.1" fill="none" />
<path d="M948,740 L916.8,862 M958.8,764 L930,884 M955,725 L920,870" stroke-width="1.1" fill="none" />
<ellipse cx="891" cy="818" rx="0.9" ry="2.4" stroke-width="1" fill="none" />
<ellipse cx="913" cy="875" rx="0.9" ry="2.4" stroke-width="1" fill="none" />
<ellipse cx="940" cy="936" rx="0.9" ry="2.4" stroke-width="1" fill="none" />
<path d="M683,610.7 Q683,601.7 691,598.2 Q700,595.2 709,598.2 Q717,601.7 717,610.7 Q717,618.7 709,622.7 Q700,625.7 691,622.7 Q683,618.7 683,610.7 Z" stroke-width="1.8" fill="none" />
<path d="M683,610.7 V617.7 Q685,626.7 695,630.7 Q706,632.7 713,625.7 Q717,620.7 717,610.7" stroke-width="1.5" fill="none" />
<path d="M686,619.7 Q690,627.7 700,628.7 Q710,627.7 715,618.7" stroke-width="1" fill="none" />
<ellipse cx="697.5" cy="611.2" rx="6.8" ry="5.2" stroke-width="1.4" fill="none" />
<path d="M691.5,609.2 h12 v-2.6 h-10 z" fill="#18221f" stroke="none"/>
<rect x="695" y="611.2" width="5" height="3" fill="#18221f" stroke="none"/>
<path d="M787,610 Q787,601 795,597.5 Q804,594.5 813,597.5 Q821,601 821,610 Q821,618 813,622 Q804,625 795,622 Q787,618 787,610 Z" stroke-width="1.8" fill="none" />
<path d="M787,610 V617 Q789,626 799,630 Q810,632 817,625 Q821,620 821,610" stroke-width="1.5" fill="none" />
<path d="M790,619 Q794,627 804,628 Q814,627 819,618" stroke-width="1" fill="none" />
<ellipse cx="801.5" cy="610.5" rx="6.8" ry="5.2" stroke-width="1.4" fill="none" />
<path d="M795.5,608.5 h12 v-2.6 h-10 z" fill="#18221f" stroke="none"/>
<rect x="799" y="610.5" width="5" height="3" fill="#18221f" stroke="none"/>
<ellipse cx="698.7" cy="636.7" rx="3" ry="2.3" stroke-width="1.1" fill="none" transform="rotate(-30 698.7 636.7)" />
<path d="M718,622 L720,616 H727.3 L742,633.3 M742,634.7 H814 M817,628 L822,615.3 H832 L844.7,636 L830.7,693.3 H704 L698.7,682.7 L700,672 L708,650" stroke-width="1.5" fill="none" />
<path d="M723.3,620 L710,672 M726.7,618.7 L714,672 M700,672 H714 L718,682.7" stroke-width="1.2" fill="none" />
<path d="M732.7,624 L721.3,685.3 M736.7,629.3 L726,688 M741.3,634.7 L728.7,688 M739.5,634 L727,688" stroke-width="1.1" fill="none" />
<path d="M726,690 H787.3" stroke-width="1.1" fill="none" />
<path d="M721.3,685.3 L726,690" stroke-width="1.1" fill="none" />
<path d="M759.3,634.7 L744.7,690 M762,634.7 L746.7,690" stroke-width="1.2" fill="none" />
<path d="M800.7,634.7 L787.3,690 M803.3,634.7 L789.3,690" stroke-width="1.2" fill="none" />
<path d="M814,634.7 L803.3,684 H806 M822,615.3 L806,672 H815.3 L830.7,693.3" stroke-width="1.2" fill="none" />
<path d="M830,616 L812.7,690.7 M832.5,617 L815,691 M840.7,625.3 L824.7,678.7 M838,622 L822,676" stroke-width="1.1" fill="none" />
<ellipse cx="710" cy="682.7" rx="6.5" ry="4.3" stroke-width="1.3" fill="none" transform="rotate(25 710 682.7)" />
<ellipse cx="814.7" cy="682.7" rx="6.5" ry="4.3" stroke-width="1.3" fill="none" transform="rotate(25 814.7 682.7)" />
<path d="M706,679 L712,688 M811,679 L817,688" stroke-width="1" fill="none" />
<ellipse cx="712.7" cy="644" rx="2.5" ry="1.9" stroke-width="1.1" fill="none" transform="rotate(-25 712.7 644)" />
<ellipse cx="744.7" cy="646.7" rx="2.5" ry="1.9" stroke-width="1.1" fill="none" transform="rotate(-25 744.7 646.7)" />
<ellipse cx="737.3" cy="674.7" rx="2.5" ry="1.9" stroke-width="1.1" fill="none" transform="rotate(-25 737.3 674.7)" />
<ellipse cx="807.3" cy="646.7" rx="2.5" ry="1.9" stroke-width="1.1" fill="none" transform="rotate(-25 807.3 646.7)" />
<ellipse cx="800" cy="674.7" rx="2.5" ry="1.9" stroke-width="1.1" fill="none" transform="rotate(-25 800 674.7)" />
<ellipse cx="817.3" cy="644" rx="3.2" ry="2.4" stroke-width="1.1" fill="none" transform="rotate(-25 817.3 644)" />
<path d="M868,633 l5,-3 l3,3 l-4,7 l-4,-1 z" stroke-width="1.1" fill="none" />
<path d="M627.6,1022.5 H1046" stroke-width="1.5" fill="none" />
<path d="M624,1039 H1046" stroke-width="2" fill="none" />
<ellipse cx="1046" cy="1030.5" rx="2.8" ry="8.2" stroke-width="1.3" fill="none" />
<ellipse cx="1046" cy="1030.5" rx="1.2" ry="4" stroke-width="1" fill="none" />
<path d="M614.4,1016 L654,862.4 Q660,855 667,864.8 L630,1019.6" stroke-width="1.2" fill="none" />
<line x1="660" y1="868" x2="622" y2="1024" stroke-width="1" stroke-dasharray="18 4 3 4"/>
<path d="M614.4,1016 Q609,1030 616,1037 Q621,1041 625,1038" stroke-width="1.2" fill="none" />
<ellipse cx="620.5" cy="1027" rx="6.5" ry="12" stroke-width="1.1" fill="none" transform="rotate(18 620.5 1027)" />
<path d="M759.6,860 L715.2,1020.8 L717.6,1025.6 L730.8,1022 L774,862.4" stroke-width="1.6" fill="none" />
<ellipse cx="767" cy="859.5" rx="7.3" ry="3" stroke-width="1.3" fill="none" />
<path d="M767,860 L724,1018" stroke-width="1" fill="none" />
<ellipse cx="745.5" cy="934" rx="13" ry="7" stroke-width="2" fill="none" transform="rotate(14 745.5 934)" />
<path d="M757.7,940.4 A13,7 14 1 1 732.9,934.2" stroke-width="1.8" fill="none" />
<ellipse cx="746" cy="933.5" rx="8.5" ry="4.2" stroke-width="1.2" fill="none" transform="rotate(14 746 933.5)" />
<path d="M695.5,891 L701,869 Q704.5,864 708.5,869 L704,892" stroke-width="1.2" fill="none" />
<ellipse cx="695" cy="910" rx="19" ry="16" stroke-width="2" fill="none" transform="rotate(20 695 910)" />
<path d="M678,907 q3,-4 7,-3 q3,-3 6,0 q3,-1 5,3 q4,0 5,4 q4,1 5,5 l1,5" stroke-width="1.3" fill="none" />
<path d="M677,908 L678.5,916 M712,905 L711,913" stroke-width="1.2" fill="none" />
<ellipse cx="692" cy="918" rx="8.5" ry="6.5" stroke-width="1.5" fill="none" transform="rotate(15 692 918)" />
<ellipse cx="693" cy="918" rx="4" ry="5" fill="#18221f" stroke="none" transform="rotate(20 693 918)"/>
<path d="M697,933 h8 v5 h-8" stroke-width="1.1" fill="none" />
<ellipse cx="696.5" cy="935.5" rx="2" ry="4" stroke-width="1.6" fill="none" />
<ellipse cx="710.5" cy="849" rx="2.4" ry="1.8" stroke-width="1" fill="none" />
<path d="M697,977.5 H871" stroke-width="1.4" fill="none" />
<path d="M700,980.5 H868" stroke-width="1" fill="none" />
<path d="M871,977.5 L889,1021" stroke-width="1.1" fill="none" />
<path d="M868,980.5 L854.5,1020" stroke-width="1.1" fill="none" />
<path d="M732,1019.6 H854.4" stroke-width="1.2" fill="none" />
<path d="M734,1017 H853" stroke-width="1" fill="none" />
<path d="M697,977.5 L683,1021" stroke-width="1.1" fill="none" />
<path d="M700.8,981 L717.6,1024" stroke-width="1.1" fill="none" />
<path d="M678.5,1040 L640,1186" stroke-width="1.1" fill="none" />
<path d="M683.5,1040 L645,1186" stroke-width="1" fill="none" />
<path d="M710,1040 L671,1186" stroke-width="1.1" fill="none" />
<path d="M882,1040 L835,1237" stroke-width="1.1" fill="none" stroke-dasharray="60 4 4 4"/>
<path d="M851,1040 L812.5,1186 M856,1040 L817,1186" stroke-width="1.1" fill="none" />
<path d="M632.5,1187.5 H815" stroke-width="2" fill="none" />
<path d="M634,1190.5 H816" stroke-width="1" fill="none" />
<path d="M632.5,1188 L652.5,1237.5 H704 L707.5,1222.5 M696,1222.5 L704,1237.5" stroke-width="1.2" fill="none" />
<path d="M696,1222.5 Q708,1221 720,1217.5 H747.5 Q762,1220 776,1222.5 L782.5,1237.5 H834 L815,1188" stroke-width="1.2" fill="none" />
<path d="M819,1188 L838,1236" stroke-width="1" fill="none" />
<path d="M700,1186 Q710,1182 720,1180 H750 Q765,1182 777.5,1186 M720,1180 V1187 M750,1180 V1187" stroke-width="1" fill="none" />
<ellipse cx="579" cy="987" rx="23.5" ry="24.5" stroke-width="1.3" fill="none" />
<path d="M557.9,996.5 A22,23 0 0 1 596.1,973.5" stroke-width="1.1" fill="none" />
<ellipse cx="576" cy="983" rx="17" ry="15" stroke-width="1.1" fill="none" transform="rotate(-20 576 983)" />
<ellipse cx="575" cy="982" rx="12" ry="10" stroke-width="1.1" fill="none" transform="rotate(-20 575 982)" />
<ellipse cx="575" cy="981.5" rx="7" ry="6" stroke-width="1.1" fill="none" />
<ellipse cx="575" cy="981" rx="3.5" ry="3" stroke-width="1" fill="none" />
<path d="M598.7,996.8 A21,20 0 0 1 559.3,996.8" stroke-width="1.1" fill="none" />
<path d="M566,975 L585,1003 M570,968 L588,998" stroke-width="1" fill="none" />
<path d="M474,834 Q460,838 458.6,871 Q460,912 474,918" stroke-width="1.3" fill="none" />
<path d="M474,834 Q463.5,840 462,871 Q463.5,910 474,918" stroke-width="1" fill="none" />
<path d="M474,834 Q490,838 491.6,860 V889" stroke-width="1.3" fill="none" />
<path d="M477,881 L485.7,908 Q481,917 474,918" stroke-width="1.2" fill="none" />
<path d="M458.6,864 H463 Q468,866 474,872 L490.9,889.6" stroke-width="2.2" fill="none" />
<rect x="486.3" y="888.6" width="5.5" height="2.2" fill="#18221f" stroke="none"/>
<ellipse cx="476.3" cy="867.7" rx="1.5" ry="3" fill="#18221f" stroke="none" transform="rotate(15 476.3 867.7)"/>
<path d="M472.5,876 L474,885 q1.5,3 2.5,0 l-0.5,-4 M472.5,876 l3,1" stroke-width="1.1" fill="none" />
<path d="M504,868 l2.5,-1 l0.5,4 l-2,2 z" stroke-width="1.3" fill="none" />
<path d="M991.7,655 L961.7,755 V780 L1040,961 H1104" stroke-width="1.3" fill="none" />
<path d="M996.7,673 L974,753 V777.5 L1020,889.4 L1107,954" stroke-width="1.2" fill="none" />
<path d="M961.7,756.7 H974 M961.7,780 L974,777.5" stroke-width="1.1" fill="none" />
<path d="M1017,886 L1021.8,884 L1108,947.5" stroke-width="1.1" fill="none" />
<path d="M1141,832 L1109,957.5 M1144,836 L1113,957" stroke-width="1.1" fill="none" />
<path d="M1098,763 L1056,911 M1102.8,781 L1065,917" stroke-width="1.1" fill="none" />
<path d="M1104,961 L1109,957.5" stroke-width="1.1" fill="none" />
<path d="M965,712.5 L943,790 M957,722.5 L938,790" stroke-width="1.1" fill="none" />
<path d="M1058,668.7 H1067 M1058,673.3 H1067 M1058,668.7 V673.3" stroke-width="1.2" fill="none" />
<ellipse cx="1069" cy="671" rx="2.4" ry="4.3" stroke-width="1.7999999999999998" fill="none" />
<path d="M1069,700.2 H1078 M1069,704.8 H1078 M1069,700.2 V704.8" stroke-width="1.2" fill="none" />
<ellipse cx="1080" cy="702.5" rx="2.4" ry="4.3" stroke-width="1.7999999999999998" fill="none" />
<path d="M995,775.2 H1004 M995,779.8 H1004 M995,775.2 V779.8" stroke-width="1.2" fill="none" />
<ellipse cx="1006" cy="777.5" rx="2.4" ry="4.3" stroke-width="1.7999999999999998" fill="none" />
<path d="M1032,871.7 H1041 M1032,876.3 H1041 M1032,871.7 V876.3" stroke-width="1.2" fill="none" />
<ellipse cx="1043" cy="874" rx="2.4" ry="4.3" stroke-width="1.7999999999999998" fill="none" />
<path d="M1009,782 l6,3 l-3,12 l-5,-3 z M1011,798 l3,10 M1018,800 l5,6 l-2,12 l-5,-6 z M1019,819 l2,8" stroke-width="1.1" fill="none" />
<path d="M1073,909 l4,-3 l3,3 l-4,4 z" stroke-width="1" fill="none" />
<ellipse cx="983" cy="780" rx="0.8" ry="2.4" stroke-width="1" fill="none" />
<ellipse cx="1020" cy="874" rx="0.8" ry="2.4" stroke-width="1" fill="none" />
<ellipse cx="1046" cy="672" rx="0.8" ry="2.4" stroke-width="1" fill="none" />
<ellipse cx="1058" cy="705" rx="0.8" ry="2.4" stroke-width="1" fill="none" />
<ellipse cx="1098" cy="975" rx="22.5" ry="22.5" stroke-width="1.3" fill="none" />
<path d="M1119.7,984.5 A22,20 0 0 1 1076.3,984.5" stroke-width="1.2" fill="none" />
<ellipse cx="1097" cy="972" rx="15" ry="14" stroke-width="1.1" fill="none" />
<ellipse cx="1097" cy="971" rx="10" ry="9" stroke-width="1.1" fill="none" />
<ellipse cx="1097" cy="970.5" rx="6.5" ry="5.5" stroke-width="1.2" fill="none" />
<ellipse cx="1097" cy="970" rx="3.5" ry="3" stroke-width="1" fill="none" />
<path d="M1084.5,992.2 A21,21 0 0 1 1087.8,954.3" stroke-width="1" fill="none" />
<path d="M1037.5,547.5 Q1016,552 997,568 Q986,578 981.5,588 Q980,594 984,596 Q996,600 1005,603 Q1017,607 1021,612 Q1027,620 1026.5,627 Q1024,633 1016,635.5 Q1004,636 995,632.5 L991,637 L991.7,655 Q994,668 1000,678 Q1006,689 1013,695 H1025" stroke-width="1.6" fill="none" />
<path d="M1037.5,549.5 Q1018,554 999,570 Q989,579 984,589" stroke-width="1" fill="none" />
<path d="M1037.5,547.5 Q1041,550 1042,553 Q1045,559 1050,561.7 H1059" stroke-width="1.4" fill="none" />
<path d="M1050,561.7 L1014,695 M1059,561.7 L1025,695 M1053,563 L1018,693" stroke-width="1.2" fill="none" />
<path d="M1025,696.5 L1046,741.5 L1049,742.5 L1030,696" stroke-width="1.3" fill="none" />
<path d="M1059,561.7 L1065,566.5 Q1078,586 1085,608 L1075,645 Q1068,630 1060,620 L1053,623 Q1047,638 1047.5,653 Q1052,680 1060,700 L1049,742" stroke-width="1.2" fill="none" />
<path d="M1062,564 L1068,569 Q1080,588 1087,609 L1077,644" stroke-width="1" fill="none" />
<path d="M1010,607 L1005,631 M1013,609 L1008,633 M1016,611 L1011,634" stroke-width="1" fill="none" />
<path d="M995,636 L991,655 M998,634 L995,650" stroke-width="1" fill="none" />
<path d="M991,640 Q988,645 988,655 L990,690 Q992,696 997,693" stroke-width="1" fill="none" />
<path d="M1075,645 Q1079,650 1083,643" stroke-width="1" fill="none" />
<path d="M1084.6,680.9 A5,26 0 0 1 1084.6,629.1" stroke-width="1.1" fill="none" />
<path d="M1087.6,680.9 A5,26 0 0 1 1087.6,629.1" stroke-width="1" fill="none" />
<ellipse cx="1062" cy="607" rx="0.8" ry="2.4" stroke-width="1" fill="none" />
<ellipse cx="1071" cy="630" rx="0.8" ry="2.4" stroke-width="1" fill="none" />
<ellipse cx="1035" cy="625" rx="0.8" ry="2.4" stroke-width="1" fill="none" />
<path d="M453.4,158 H466" stroke-width="1.6" fill="none" />
<path d="M453.4,158 Q449.5,162 449,170.6 L446,282 Q446.5,302 449.8,316 Q455,332 464,338 H475" stroke-width="1.3" fill="none" />
<ellipse cx="466.5" cy="172.4" rx="3.3" ry="8.2" stroke-width="1.3" fill="none" />
<path d="M466,158 Q470,162 471.4,170.6 L485.8,228" stroke-width="1.3" fill="none" />
<path d="M463,181 L476,229 M466.5,181 L479,226 M468,170 L471.4,170.6" stroke-width="1.1" fill="none" />
<path d="M461.5,181 V268 M458.8,176 V270 M449,170.6 H463" stroke-width="1.1" fill="none" />
<path d="M461.5,218 H474 M461.5,223 H476 M461.5,230 H472 M446,282 H461" stroke-width="1" fill="none" />
<path d="M477.4,334.4 A31,56 0 0 1 478.9,234.2" stroke-width="1.3" fill="none" />
<path d="M484.4,336.9 A31,56 0 0 1 481.9,235.1" stroke-width="1.1" fill="none" />
<path d="M468.7,339.8 L476.8,354 H484 L487.6,338 M476.8,354 L480,341" stroke-width="1.1" fill="none" />
<path d="M478,228.5 H601" stroke-width="1.6" fill="none" />
<path d="M476,337.5 H640" stroke-width="1.3" fill="none" />
<path d="M604.8,337.1 A28,56 0 0 1 606.2,228.2" stroke-width="1.5" fill="none" />
<path d="M610,152.6 H620.8" stroke-width="1.6" fill="none" />
<path d="M610,152.6 Q606,158 605.5,168.8 L598,280" stroke-width="1.3" fill="none" />
<path d="M620.8,152.6 Q627,156 629.8,167 L635,195.8" stroke-width="1.3" fill="none" />
<path d="M622.6,160.5 L626,168.8 L622.6,177 L619.2,168.8 Z" stroke-width="1.2" fill="none" />
<path d="M605.5,168.8 H615.4 V280.4" stroke-width="1.2" fill="none" />
<path d="M584.8,280.4 H615.4" stroke-width="1.8" fill="none" />
<path d="M616.3,247 H623.5 V262 H619 V276.8 M616.3,247 V253" stroke-width="1.1" fill="none" />
<path d="M635,196.7 Q624,197 621.7,201 Q619,206 619,219 V270" stroke-width="1.3" fill="none" />
<path d="M619,290 Q619.5,300 622.6,307.4 Q626,322 629.8,330.8 Q634,337 638.8,338 Q650,341 660.4,340.7" stroke-width="1.3" fill="none" />
<path d="M635,196.7 H656.8" stroke-width="1.3" fill="none" />
<path d="M656.8,196.7 Q661,199 664,206.6 Q675,240 680,273 Q681.5,286 680,298 Q677,318 671,329 Q666,340 660.4,340.7 Q653,336 648.7,320 Q645,300 645,284 Q645,245 648.7,215.6 Q650,204 653,199.4 Q655,196.5 656.8,196.7 Z" stroke-width="1.3" fill="none" />
<path d="M620.8,213 H649 M627,272.3 H645 M631.6,319.6 H649" stroke-width="1.2" fill="none" />
<line x1="651.5" y1="280" x2="651.5" y2="322" stroke-width="1.6" />
<line x1="655" y1="270" x2="655" y2="290" stroke-width="1.6" />
<line x1="658" y1="262" x2="658" y2="284" stroke-width="1.6" />
<line x1="661" y1="256" x2="661" y2="276" stroke-width="1.6" />
<line x1="664" y1="252" x2="664" y2="272" stroke-width="1.6" />
<line x1="667" y1="258" x2="667" y2="300" stroke-width="1.6" />
<line x1="670" y1="262" x2="670" y2="312" stroke-width="1.6" />
<line x1="673" y1="268" x2="673" y2="300" stroke-width="1.6" />
<line x1="658" y1="298" x2="658" y2="318" stroke-width="1.6" />
<line x1="662" y1="296" x2="662" y2="314" stroke-width="1.6" />
<line x1="666" y1="304" x2="666" y2="312" stroke-width="1.6" />
<path d="M655.9,212.5 l2.6,5.8 l-2.6,5.8 l-2.6,-5.8 z M678.4,269 l2.2,5 l-2.2,5 l-2.2,-5 z M647.8,293 l2.2,5.4 l-2.2,5.4 l-2.2,-5.4 z" stroke-width="1.1" fill="none" />
<path d="M658.6,236 l3,3.5 v8 l-3,3.5 l-3,-3.5 v-8 z" stroke-width="1.1" fill="none" />
<path d="M584.8,282 H607 L610,305.6 L602.8,311 L588.4,313" stroke-width="1.2" fill="none" />
<ellipse cx="598.3" cy="295.7" rx="11" ry="11.5" stroke-width="1.5" fill="none" />
<ellipse cx="598.3" cy="295.7" rx="7.5" ry="8" stroke-width="1.3" fill="none" />
<ellipse cx="598" cy="295.5" rx="4" ry="4.5" stroke-width="1.1" fill="none" />
<path d="M594,290 L602,300 M592,296 L604,294" stroke-width="1" fill="none" />
<path d="M613,287 h6 v10 h-6 z M616,300 v8 h5" stroke-width="1.1" fill="none" />
<ellipse cx="617.5" cy="293" rx="2.5" ry="4" stroke-width="1.1" fill="none" />
<path d="M603.7,338 L608,354 H624.4 L628,338 M624.4,354 L627,344 M632,338 L635,350 L638,338" stroke-width="1.1" fill="none" />
<path d="M592,300 L576.7,309 L588.4,330.8 M595.6,347 L605.5,367.7 L598.3,372" stroke-width="1.1" fill="none" />
<ellipse cx="696.7" cy="302.7" rx="6" ry="10" stroke-width="1.4" fill="none" />
<ellipse cx="696.7" cy="302.7" rx="4" ry="7.5" stroke-width="1.1" fill="none" />
<ellipse cx="682" cy="320" rx="5.5" ry="9.5" stroke-width="1.4" fill="none" />
<ellipse cx="682" cy="320" rx="3.5" ry="7" stroke-width="1.1" fill="none" />
<ellipse cx="576.7" cy="390" rx="12" ry="12.5" stroke-width="1.5" fill="none" />
<ellipse cx="576.7" cy="390" rx="9.5" ry="10" stroke-width="1.1" fill="none" />
<ellipse cx="576.5" cy="390.5" rx="6" ry="6.5" stroke-width="1.2" fill="none" />
<path d="M572,386 l9,9 M572,394 l9,-8" stroke-width="1" fill="none" />
<path d="M582,378.5 L596,371.5 M585,401 L600,392" stroke-width="1.3" fill="none" />
<path d="M596,371.5 l3,-2 q5,5 5,18 l-4,4.5 M593,373 q6,6 6,19" stroke-width="1.2" fill="none" />
<path d="M588,375 q6,8 6,20" stroke-width="1" fill="none" />
<ellipse cx="546.2" cy="411.6" rx="4.3" ry="7.5" stroke-width="1.3" fill="none" transform="rotate(20 546.2 411.6)" />
<path d="M549,405 l8,-5 q3,0 3,3 l-8,9 z M550,408 l8,-5 M551,411 l8,-6" stroke-width="1.1" fill="none" />
<path d="M560,403 L568,397" stroke-width="1" fill="none" stroke-dasharray="5 2"/>
<path d="M519.5,423 L524,418 L531,417.5 L535,423 L534,432 L529,436.5 L522,436 L519,430 Z" stroke-width="1.3" fill="none" />
<ellipse cx="526.5" cy="427" rx="3.2" ry="6.5" stroke-width="1.2" fill="none" transform="rotate(15 526.5 427)" />
<line x1="516.8" y1="435.4" x2="536.4" y2="421.9" stroke-width="1" />
<path d="M614,413 Q622,405 635,399 Q650,396 666.7,395.8 L703,394 Q725,394.5 746.7,397.5 Q762,400 775,406.7 Q783,411 788,415 Q797,427 805,440 L818,470 L824,493 L821.7,505 Q817,510 811.7,510 L805,506.7" stroke-width="1.5" fill="none" />
<path d="M614,413 Q611,422 611,433 L610,456.7 Q611,468 615,476.7 Q619,485 625,485.8 Q632,485 636.7,478 Q641,471 641.7,463 L639,450 Q638,443 640,440 Q644,437 650,437.5 L703,440 L745,438 Q757,441 766.7,448 Q776,457 783,468 L795,490 L796.7,500 L806,508" stroke-width="1.4" fill="none" />
<path d="M633,441.7 L631.7,460 L636,473" stroke-width="1.1" fill="none" />
<path d="M614,428 Q622,424 633,423 L686.7,427.5 L741.7,425 Q755,425 765,428 L768,415" stroke-width="1.4" fill="none" />
<path d="M616,411.7 Q624,407.5 635,406.7 H745 Q758,408 766.7,411.7" stroke-width="1.3" fill="none" />
<path d="M621.5,412.1 L635.5,408.5 L632,421.5 L618.5,425.0 Z" stroke-width="1.5" fill="none" />
<path d="M623,411.9 L627,422.6" stroke-width="1" fill="none" />
<path d="M638.5,408.5 L662.5,408.5 L659,423.4 L635.5,421.4 Z" stroke-width="1.5" fill="none" />
<path d="M640,408.7 L644,421.9" stroke-width="1" fill="none" />
<path d="M665.5,408.5 L690.5,408.5 L687,425.7 L662.5,423.7 Z" stroke-width="1.5" fill="none" />
<path d="M667,408.7 L671,424.2" stroke-width="1" fill="none" />
<path d="M693.5,408.5 L718.5,408.5 L715,424.4 L690.5,425.5 Z" stroke-width="1.5" fill="none" />
<path d="M695,408.7 L699,424.9" stroke-width="1" fill="none" />
<path d="M721.5,408.5 L746.5,408.8 L743,423.4 L718.5,424.3 Z" stroke-width="1.5" fill="none" />
<path d="M723,408.7 L727,423.7" stroke-width="1" fill="none" />
<path d="M749.5,409.5 L766.5,413.5 L763,425.9 L746.5,423.8 Z" stroke-width="1.5" fill="none" />
<path d="M751,410.1 L755,424.7" stroke-width="1" fill="none" />
<path d="M626,407.0 L639.5,400.5 L636.5,405.2 L622.5,408.5 Z" stroke-width="1.5" fill="none" />
<path d="M630,404.8 L634,405.0" stroke-width="1" fill="none" />
<path d="M643,400.2 L666.5,397.8 L663.5,405.2 L639.5,405.2 Z" stroke-width="1.5" fill="none" />
<path d="M647,400.3 L651,404.7" stroke-width="1" fill="none" />
<path d="M670,397.6 L694.5,396.4 L691.5,405.2 L666.5,405.2 Z" stroke-width="1.5" fill="none" />
<path d="M674,397.9 L678,404.7" stroke-width="1" fill="none" />
<path d="M698,396.2 L722.5,397.6 L719.5,405.2 L694.5,405.2 Z" stroke-width="1.5" fill="none" />
<path d="M702,396.5 L706,404.7" stroke-width="1" fill="none" />
<path d="M726,397.8 L750.5,400.7 L747.5,405.8 L722.5,405.2 Z" stroke-width="1.5" fill="none" />
<path d="M730,398.7 L734,404.7" stroke-width="1" fill="none" />
<path d="M754,401.9 L770.5,407.2 L767.5,410.6 L750.5,406.5 Z" stroke-width="1.5" fill="none" />
<path d="M758,403.7 L762,408.6" stroke-width="1" fill="none" />
<path d="M611,440 q-2,3 0,8" stroke-width="1" fill="none" />
<path d="M773,415 Q780,413 786,420 L803,443 Q806,448 804,451.7 L793,460 Q789,461 786,456 L771.7,428 Q769,420 773,415 Z" stroke-width="1.3" fill="none" />
<path d="M775,418 Q781,416 786,423 L801,444 Q803,448 801,450 L793,456.5" stroke-width="1" fill="none" />
<path d="M794,485 H807.5 L815,473 M806.7,446.7 L823,495 M807.5,485 L818,506.7 M794,485 L797,500" stroke-width="1.2" fill="none" />
<path d="M675.8,455 L683,443 L700,444 L698,455 L693,463 H680 Z" stroke-width="1.3" fill="none" />
<ellipse cx="688" cy="452.5" rx="6.5" ry="5.5" stroke-width="1.2" fill="none" />
<path d="M675.8,455 L695,501.7 L715,498 L693,463 M680,463 L697,500 M700,444 L720,485 V500 L715,505" stroke-width="1.3" fill="none" />
<path d="M700,502.5 L703,509 L713,510 L718,500 M715,498 L720,485" stroke-width="1.1" fill="none" />
<ellipse cx="719" cy="367.5" rx="18.7" ry="17" stroke-width="2.1" fill="none" transform="rotate(-20 719 367.5)" />
<ellipse cx="719.5" cy="371.0" rx="16" ry="12.5" stroke-width="1.8" fill="none" transform="rotate(-15 719.5 371.0)" />
<path d="M703.4,376.8 A17.5,15 -18 0 1 723.3,353.9" stroke-width="1.2" fill="none" />
<path d="M713,357.5 L711,379.5 M725,358.5 L721,378.5 M705,365.5 L710,373.5 M734,367.5 L727,376.5 M710,373.5 q3,-4 8,-3 M721,371.5 q5,-1 8,3 M718,355.5 v8" stroke-width="1.3" fill="none" />
<ellipse cx="714.5" cy="381.5" rx="5.5" ry="4" stroke-width="1.5" fill="none" />
<rect x="710.5" y="381.5" width="7.5" height="9" rx="2" fill="#18221f" stroke="none"/>
<ellipse cx="714.3" cy="391.5" rx="3.6" ry="2" stroke-width="1.3" fill="none" />
<ellipse cx="823.5" cy="373" rx="18.7" ry="17" stroke-width="2.1" fill="none" transform="rotate(-20 823.5 373)" />
<ellipse cx="824.0" cy="376.5" rx="16" ry="12.5" stroke-width="1.8" fill="none" transform="rotate(-15 824.0 376.5)" />
<path d="M807.9,382.3 A17.5,15 -18 0 1 827.8,359.4" stroke-width="1.2" fill="none" />
<path d="M817.5,363 L815.5,385 M829.5,364 L825.5,384 M809.5,371 L814.5,379 M838.5,373 L831.5,382 M814.5,379 q3,-4 8,-3 M825.5,377 q5,-1 8,3 M822.5,361 v8" stroke-width="1.3" fill="none" />
<ellipse cx="819.0" cy="387" rx="5.5" ry="4" stroke-width="1.5" fill="none" />
<rect x="815.0" y="387" width="7.5" height="9" rx="2" fill="#18221f" stroke="none"/>
<ellipse cx="818.8" cy="397" rx="3.6" ry="2" stroke-width="1.3" fill="none" />
<path d="M778.7,370 h4.8 v20.7 h-4.8 z M778.7,377 h4.8" stroke-width="1.2" fill="none" />
<path d="M794.8,371 l5,-1.3 l5,18.5 l-5,1.5 z M796.5,378 l5,-1.3" stroke-width="1.2" fill="none" />
<path d="M702.7,306 L714.7,318.7 Q724,319 733.3,320.7 Q741,324 748,327.3 Q759,328 769.3,330 Q776,332 780,336.7 Q784,342 786.7,347.3 Q792,354 794.7,360.7 L797.3,370" stroke-width="1.2" fill="none" />
<path d="M700.5,308 L712,320.5 M686.7,320.7 Q694,322.5 700,321.8 Q707,320.5 713.5,320.8 Q723,321 732,322.8 Q740,326 747,329.3 Q758,330 768,332 Q774,334 778,338.5 Q782,343 784.5,349 Q783,356 780.7,363.3 L781.3,370" stroke-width="1.2" fill="none" />
<path d="M786,350 Q790.5,356 792.7,362 L795,370.5" stroke-width="1" fill="none" />
<ellipse cx="750.5" cy="498.0" rx="3.2" ry="1.8" stroke-width="1.5" fill="none" />
<ellipse cx="750.5" cy="500.8" rx="3.2" ry="1.8" stroke-width="1.5" fill="none" />
<ellipse cx="750.5" cy="503.6" rx="3.2" ry="1.8" stroke-width="1.5" fill="none" />
<ellipse cx="750.5" cy="506.4" rx="3.2" ry="1.8" stroke-width="1.5" fill="none" />
<ellipse cx="750.5" cy="509.2" rx="3.2" ry="1.8" stroke-width="1.5" fill="none" />
<path d="M820.5,399 L808,441.5" stroke-width="1.2" fill="none" />
<path d="M802.5,506.7 L791,551.7 M795,500 L781.7,551.7" stroke-width="1.2" fill="none" />
<path d="M831.5,358 H974.5" stroke-width="2.5" fill="none" />
<path d="M974.5,358 Q978,359 979,361.5 L1005.3,425.3 L1003,430.5 L989,431" stroke-width="1.5" fill="none" />
<path d="M833,361.7 H971.6" stroke-width="1.1" fill="none" />
<path d="M852,367.4 H953.3" stroke-width="2" fill="none" />
<path d="M852,371 H951" stroke-width="1.1" fill="none" />
<path d="M833.7,388.7 L826.4,438.5 M839.6,388.7 L831.5,435.6 M844,374 L830,435" stroke-width="1.2" fill="none" />
<path d="M842.5,372.5 L852,367.4 M842.5,372.5 L844,374" stroke-width="1.1" fill="none" />
<path d="M830,435.3 H941.5" stroke-width="1.6" fill="none" />
<path d="M955.5,380 L941.5,437.8 M966.5,387.2 L952.5,443 M959,381 L945,439 M963,384 L949,441" stroke-width="1.1" fill="none" />
<path d="M941.5,437.8 L952.5,443" stroke-width="1.1" fill="none" />
<path d="M952.5,372.5 Q962,368 971.6,378.4 L973.8,385.7 M953.3,376 Q962,372 968,381" stroke-width="1.3" fill="none" />
<ellipse cx="961" cy="384" rx="4" ry="2.5" stroke-width="1.1" fill="none" />
<path d="M957,384 v4 q4,3 8,0 v-4" stroke-width="1" fill="none" />
<path d="M831.5,435.6 V442.2 H825.7 V445.9 L841.8,482.5 L848.4,484 L852.8,489 H962.8 L964.3,485.5 L962,484 L968.7,482.5 L986.3,424" stroke-width="1.3" fill="none" />
<path d="M952.5,443 V445.9 L968.7,482.5" stroke-width="1.1" fill="none" />
<path d="M973.8,378.4 L989,418" stroke-width="2.2" fill="none" />
<path d="M978,372.5 L996.5,419.5" stroke-width="1.1" fill="none" />
<path d="M986.3,418 L992,416.5 L993.6,425.3 L989,431 M986.3,418 Q983,424 986.3,430" stroke-width="1.2" fill="none" />
<ellipse cx="998" cy="426" rx="2" ry="2" stroke-width="1.1" fill="none" />
<ellipse cx="970.9" cy="365.2" rx="1.6" ry="1.3" stroke-width="1" fill="none" />
<path d="M872,464 l7,-1.5 l5,4.5 l-7,1.5 z M916,464 l7,-1.5 l5,4.5 l-7,1.5 z" stroke-width="1.2" fill="none" />
<path d="M882,454.7 L877.7,464 M927,451 L922,463" stroke-width="1" fill="none" />
<ellipse cx="870.4" cy="486.2" rx="8" ry="8" stroke-width="1.6" fill="none" />
<ellipse cx="870.4" cy="486.2" rx="5.5" ry="5.5" stroke-width="1.3" fill="none" />
<ellipse cx="870.4" cy="486.2" rx="3" ry="3" stroke-width="1.2" fill="none" />
<path d="M862.4,483.2 l3,-6 l8,-1 l5,4 M867.4,483.2 l6,6 M867.4,489.2 l6,-6" stroke-width="1" fill="none" />
<line x1="866.4" y1="494.2" x2="862.9" y2="501.2" stroke-width="1" />
<ellipse cx="913" cy="486.2" rx="8" ry="8" stroke-width="1.6" fill="none" />
<ellipse cx="913" cy="486.2" rx="5.5" ry="5.5" stroke-width="1.3" fill="none" />
<ellipse cx="913" cy="486.2" rx="3" ry="3" stroke-width="1.2" fill="none" />
<path d="M905,483.2 l3,-6 l8,-1 l5,4 M910,483.2 l6,6 M910,489.2 l6,-6" stroke-width="1" fill="none" />
<line x1="909" y1="494.2" x2="905.5" y2="501.2" stroke-width="1" />
<path d="M829.8,334.3 H854 Q857,335 857,337 L851.8,357 M829.8,334.3 L824.7,356" stroke-width="1.3" fill="none" />
<path d="M838.6,319 L835.7,332.8 M841,319 L838.5,333 M838.6,319 q1.2,-2 2.4,0 M852.5,319 L848.9,332.8 M855,319 L851.5,333 M852.5,319 q1.2,-2 2.5,0" stroke-width="1.2" fill="none" />
<ellipse cx="873" cy="265.3" rx="6.3" ry="5.2" stroke-width="1.4" fill="none" transform="rotate(20 873 265.3)" />
<ellipse cx="873" cy="266.3" rx="3.6" ry="2.8" stroke-width="1.3" fill="none" transform="rotate(20 873 266.3)" />
<ellipse cx="873" cy="266.3" rx="1.6" ry="1.2" stroke-width="1" fill="none" transform="rotate(20 873 266.3)" />
<ellipse cx="990.4" cy="264.6" rx="6.3" ry="5.2" stroke-width="1.4" fill="none" transform="rotate(20 990.4 264.6)" />
<ellipse cx="990.4" cy="265.6" rx="3.6" ry="2.8" stroke-width="1.3" fill="none" transform="rotate(20 990.4 265.6)" />
<ellipse cx="990.4" cy="265.6" rx="1.6" ry="1.2" stroke-width="1" fill="none" transform="rotate(20 990.4 265.6)" />
<ellipse cx="1010.2" cy="310.8" rx="6.3" ry="5.2" stroke-width="1.4" fill="none" transform="rotate(20 1010.2 310.8)" />
<ellipse cx="1010.2" cy="311.8" rx="3.6" ry="2.8" stroke-width="1.3" fill="none" transform="rotate(20 1010.2 311.8)" />
<ellipse cx="1010.2" cy="311.8" rx="1.6" ry="1.2" stroke-width="1" fill="none" transform="rotate(20 1010.2 311.8)" />
<path d="M899.2,314.5 A6,4.5 0 0 1 887.7,313.8" stroke-width="1.3" fill="none" />
<path d="M879,258.7 H986" stroke-width="1.5" fill="none" />
<path d="M879,261.7 H985" stroke-width="1.1" fill="none" />
<path d="M997.7,269.7 L1015.3,305 M994.8,272.7 L1011,305" stroke-width="1.3" fill="none" />
<path d="M889.2,313 H1003.6" stroke-width="1.2" fill="none" />
<path d="M868.7,269.7 L887.7,310.8" stroke-width="1.2" fill="none" />
<path d="M873,274 L912.7,268.3 L930.3,307 L892,310 Z" stroke-width="1.4" fill="none" />
<path d="M880.4,279.3 L909.7,277.8 L920,303.5 L894.3,305 Z" stroke-width="1.2" fill="none" />
<path d="M882.5,281.5 L908,280 L917.5,301 L896,302.5 Z" stroke-width="1" fill="none" />
<path d="M879,269.7 L912.7,268.3 M912.7,268.3 L916,266.5 L933.5,304.5 L930.3,307 M879,266.5 H916" stroke-width="1.1" fill="none" />
<path d="M958,284 l7,-0.5 l4,3 l-1.5,3 l-7,0.5 l-4,-3 z" stroke-width="1.2" fill="none" />
<line x1="968" y1="272" x2="951" y2="318" stroke-width="1" stroke-dasharray="9 3"/>
<path d="M914,181.6 H936" stroke-width="1.8" fill="none" />
<path d="M914,181.6 L909.2,188 M936,181.6 L930,188" stroke-width="1.2" fill="none" />
<path d="M900.4,188.4 H934.4" stroke-width="2.2" fill="none" />
<path d="M899.2,193.6 H933.6" stroke-width="2" fill="none" />
<path d="M900.4,188.4 L899.2,193.6 L903.2,201.2" stroke-width="1.3" fill="none" />
<path d="M904.8,196.8 H930" stroke-width="1.4" fill="none" />
<path d="M904.8,196.8 L898.4,227.6" stroke-width="1.1" fill="none" stroke-dasharray="9 2"/>
<path d="M930,196.8 L924.4,216.4 M930,196.8 L938,211.6 L931.6,241.2 M938,210 L936,241.2" stroke-width="1.3" fill="none" />
<path d="M910,242.4 H936.4" stroke-width="1.5" fill="none" />
<path d="M925.2,217.2 L934.8,240.4" stroke-width="1.2" fill="none" />
<path d="M936,181.6 L947.6,222.8 L947.2,226 H941.2 V221.2 M934.4,188.4 L945.2,222 M933.6,193.6 L941.2,221.2" stroke-width="1.4" fill="none" />
<path d="M900.4,215.6 H906 L905,227.6 H899.5 Z M902,221 h2" stroke-width="1.4" fill="none" />
<path d="M913.2,215.6 H920.8 L920,228.4 H912 Z M915.5,221.5 h2.5" stroke-width="1.4" fill="none" />
<path d="M907,228.4 H925.2" stroke-width="2" fill="none" />
<path d="M907.2,228.4 L905.6,243.6 M910,230 L908.5,243 M922,228.4 L922.8,243.6 M925,230 L925.5,243 M912,232 h6 v5" stroke-width="1.4" fill="none" />
<ellipse cx="984.8" cy="221.5" rx="18.8" ry="18.8" stroke-width="1.4" fill="none" />
<path d="M994.2,237.8 A18.8,18.8 0 1 1 978.4,203.8" stroke-width="2.2" fill="none" />
<path d="M966.8,219.6 Q970,212 982,211.6 Q996,212 1001.2,221.2" stroke-width="1.5" fill="none" />
<path d="M968,224 Q972,216 982,215 Q993,215.5 999,224" stroke-width="1" fill="none" />
<path d="M975,216 L979,233 M983,212 L982,231 M990,216 L986,234 M972,222 L977,235 M997,222 L990,236 M978,219 q3,-2 5,1 M994,226 l3,1" stroke-width="1.1" fill="none" />
<ellipse cx="980.6" cy="236.6" rx="3.6" ry="3.2" fill="#18221f" stroke="none"/>
<ellipse cx="980.6" cy="236.6" rx="5" ry="4.4" stroke-width="1.2" fill="none" />
<line x1="997" y1="182" x2="965" y2="262" stroke-width="1" stroke-dasharray="14 4"/>
<path d="M933.2,316.7 H956.7" stroke-width="2.2" fill="none" />
<path d="M935,319.5 H955" stroke-width="1" fill="none" />
<path d="M953,303 q2.5,-3 5,0 L958,316 M953,303 V316" stroke-width="1.1" fill="none" />
<path d="M933.2,317 Q922,322 919.3,331.3 Q917,345 920,357" stroke-width="1.3" fill="none" />
<path d="M936,319 Q925,324 922.5,333 Q920.5,345 923,357" stroke-width="1" fill="none" />
<ellipse cx="950" cy="335.5" rx="16" ry="15" stroke-width="1.3" fill="none" />
<path d="M934.9,341.5 A13,9 0 0 1 960.9,341.5" stroke-width="1.2" fill="none" />
<path d="M956,318 l3,3 l-2,10 M944,322 L945,357 M941,322 V340" stroke-width="1.2" fill="none" />
<path d="M1175.7,290 L1223.7,285.7" stroke-width="1.6" fill="none" />
<path d="M1175.7,290 L1174.7,356.7" stroke-width="1.6" fill="none" />
<path d="M1223.7,285.7 L1223.2,353.3" stroke-width="1" fill="none" stroke-opacity="0.55"/>
<ellipse cx="1186" cy="298.7" rx="2.6" ry="2.6" stroke-width="1.2" fill="none" />
<rect x="1202.3" y="297.7" width="6" height="12" rx="3" transform="rotate(-20 1205.3 303.7)" stroke-width="1.2"/>
<ellipse cx="1205.8" cy="306.2" rx="2.8" ry="3" stroke-width="1.1" fill="none" />
<rect x="1186.3" y="307.3" width="6" height="12" rx="3" transform="rotate(-25 1189.3 313.3)" stroke-width="1.2"/>
<ellipse cx="1189.8" cy="315.8" rx="2.8" ry="3" stroke-width="1.1" fill="none" />
<rect x="1195.7" y="311.7" width="6" height="12" rx="3" transform="rotate(-25 1198.7 317.7)" stroke-width="1.2"/>
<ellipse cx="1199.2" cy="320.2" rx="2.8" ry="3" stroke-width="1.1" fill="none" />
<rect x="1183.3" y="323.3" width="6" height="12" rx="3" transform="rotate(-20 1186.3 329.3)" stroke-width="1.2"/>
<ellipse cx="1186.8" cy="331.8" rx="2.8" ry="3" stroke-width="1.1" fill="none" />
<path d="M1209.5,296 L1211,293.5 L1217,293 L1218.7,297 V319 L1213,321.3 L1210,316 Z M1210,296.5 L1213,299.5 V321 M1213,299.5 L1218.7,297" stroke-width="1.2" fill="none" />
<path d="M1199.5,328.5 l6,-1 l3.5,4.5 v3 l-6,1 l-3.5,-4.5 z M1203,333 l6,-1" stroke-width="1.2" fill="none" />
<path d="M1182.7,343 L1185,339.3 L1191,339 L1193.3,344 V361 M1182.7,343 L1186,347 V361 M1186,347 L1193.3,344 M1182.7,343 V355" stroke-width="1.2" fill="none" />
<path d="M1190.7,339 L1192,336 L1197,335.5 L1200,341 V360 M1193.3,344 L1200,341" stroke-width="1.2" fill="none" />
<path d="M1218,343 l2.5,2 v11 l-2.5,-1 z M1220.5,345 l1.5,-1 v10" stroke-width="1.1" fill="none" />
<path d="M1202.7,353 L1215.3,352.3" stroke-width="1.3" fill="none" />
<path d="M1180,352 l2,6" stroke-width="1.5" fill="none" />
<line x1="929" y1="397" x2="938" y2="370" stroke-width="1" />
</svg>
</body></html>
